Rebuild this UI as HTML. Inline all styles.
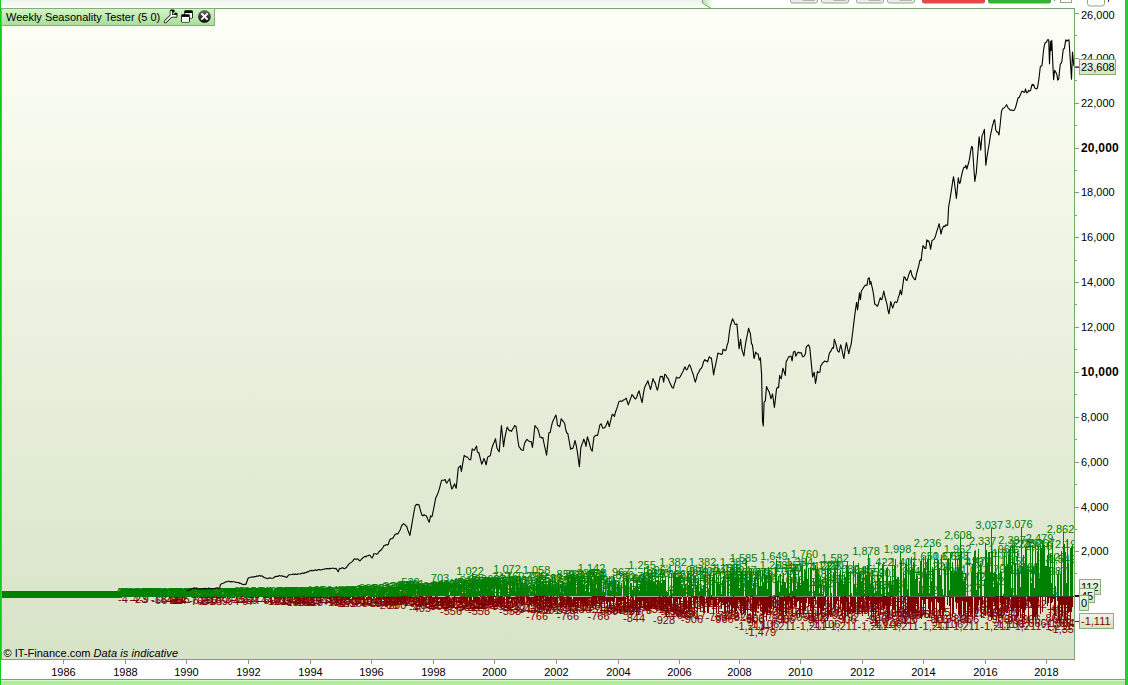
<!DOCTYPE html>
<html><head><meta charset="utf-8"><title>Weekly Seasonality Tester</title>
<style>
html,body{margin:0;padding:0;background:#fff;}
body{width:1128px;height:685px;overflow:hidden;position:relative;font-family:"Liberation Sans",sans-serif;}
svg{position:absolute;left:0;top:0;display:block;}
.ax{font-size:11px;fill:#000;}
.g text{fill:#008000;}
.r text{fill:#800000;}
</style></head><body>
<svg width="1128" height="685" viewBox="0 0 1128 685" font-family="'Liberation Sans', sans-serif">
<defs>
<linearGradient id="bg" x1="0" y1="0" x2="0" y2="1"><stop offset="0" stop-color="#fdfef5"/><stop offset="1" stop-color="#d7e3c7"/></linearGradient>
<linearGradient id="tb" x1="0" y1="0" x2="0" y2="1"><stop offset="0" stop-color="#edf4ea"/><stop offset="1" stop-color="#fbfdfa"/></linearGradient>
<linearGradient id="lg" x1="0" y1="0" x2="0" y2="1"><stop offset="0" stop-color="#d2f7c4"/><stop offset="1" stop-color="#abdc9b"/></linearGradient>
<linearGradient id="bx" x1="0" y1="0" x2="0" y2="1"><stop offset="0" stop-color="#eff5e6"/><stop offset="1" stop-color="#d3e3c4"/></linearGradient>
<linearGradient id="tab" x1="0" y1="0" x2="1" y2="0"><stop offset="0" stop-color="#aee3a0"/><stop offset="1" stop-color="#ffffff"/></linearGradient>
<clipPath id="pc"><rect x="2" y="9" width="1072" height="650"/></clipPath>
</defs>

<rect x="1" y="0" width="702" height="8" fill="url(#tb)"/>
<path d="M702.3 0 L702.3 1.5 Q702.3 3.5 704.5 4.6 L710.8 8.3 L713 8.3 L713 0 Z" fill="url(#tab)"/>
<path d="M702.3 0 L702.3 1.5 Q702.3 3.5 704.5 4.6 L710.8 8.3" fill="none" stroke="#6f9a60" stroke-width="1"/>
<rect x="790.5" y="-4" width="27.0" height="7" rx="2" fill="#ebebeb" stroke="#86b47a" stroke-width="1"/>
<rect x="802.6" y="0" width="12.2" height="1" fill="#b4b4b4"/>
<rect x="821.5" y="-4" width="27.0" height="7" rx="2" fill="#ebebeb" stroke="#86b47a" stroke-width="1"/>
<rect x="833.6" y="0" width="12.2" height="1" fill="#b4b4b4"/>
<rect x="856.5" y="-4" width="27.0" height="7" rx="2" fill="#ebebeb" stroke="#86b47a" stroke-width="1"/>
<rect x="868.6" y="0" width="12.2" height="1" fill="#b4b4b4"/>
<rect x="887.5" y="-4" width="27.0" height="7" rx="2" fill="#ebebeb" stroke="#86b47a" stroke-width="1"/>
<rect x="899.6" y="0" width="12.2" height="1" fill="#b4b4b4"/>
<rect x="922" y="-4" width="63" height="7.5" rx="2.5" fill="#e04a4a"/>
<rect x="988" y="-4" width="63" height="7.5" rx="2.5" fill="#2db52d"/>
<rect x="1054" y="0" width="1" height="1" fill="#6080a0"/>
<rect x="1060.5" y="-3" width="11" height="5.5" fill="none" stroke="#8aaa80" stroke-width="1"/>
<rect x="1087.5" y="-4" width="17" height="10" rx="2.5" fill="#fff" stroke="#8aaa80" stroke-width="1"/>
<rect x="1108" y="0" width="1" height="2" fill="#303080"/>
<rect x="2" y="9" width="1072" height="650" fill="url(#bg)"/>
<g clip-path="url(#pc)">
<g class="r" font-size="11" text-anchor="middle"><text x="123.0" y="602.9">-4</text><text x="134.1" y="602.9">-4</text><text x="139.4" y="603.3">-23</text><text x="144.1" y="603.0">-9</text><text x="158.8" y="603.2">-18</text><text x="159.4" y="604.3">-66</text><text x="170.6" y="603.9">-47</text><text x="171.2" y="603.7">-42</text><text x="174.7" y="603.6">-36</text><text x="175.9" y="604.2">-63</text><text x="177.1" y="603.3">-21</text><text x="178.8" y="604.0">-54</text><text x="179.4" y="603.3">-22</text><text x="181.8" y="603.1">-15</text><text x="195.3" y="604.5">-76</text><text x="197.1" y="604.2">-61</text><text x="205.3" y="604.7">-84</text><text x="207.1" y="604.6">-81</text><text x="209.4" y="604.0">-56</text><text x="213.5" y="603.2">-18</text><text x="216.5" y="604.5">-77</text><text x="220.0" y="604.8">-89</text><text x="226.5" y="602.9">-3</text><text x="231.2" y="604.9">-94</text><text x="237.7" y="603.1">-15</text><text x="238.2" y="602.9">-3</text><text x="240.0" y="603.1">-12</text><text x="246.5" y="605.0">-97</text><text x="250.0" y="604.1">-59</text><text x="251.8" y="603.8">-44</text><text x="265.3" y="603.8">-44</text><text x="267.7" y="604.1">-60</text><text x="275.3" y="605.1">-103</text><text x="278.8" y="603.3">-21</text><text x="280.6" y="605.1">-102</text><text x="281.8" y="605.4">-115</text><text x="282.4" y="604.3">-69</text><text x="291.8" y="604.5">-78</text><text x="293.5" y="603.1">-13</text><text x="294.1" y="605.9">-138</text><text x="295.3" y="604.3">-69</text><text x="298.2" y="603.6">-37</text><text x="300.6" y="603.6">-35</text><text x="304.1" y="606.3">-158</text><text x="305.3" y="604.9">-93</text><text x="305.9" y="603.1">-13</text><text x="311.2" y="603.5">-31</text><text x="311.8" y="605.4">-117</text><text x="312.4" y="605.5">-118</text><text x="317.1" y="602.9">-4</text><text x="320.0" y="604.9">-94</text><text x="323.5" y="603.4">-28</text><text x="330.0" y="602.8">-2</text><text x="333.5" y="605.0">-96</text><text x="334.7" y="603.6">-35</text><text x="335.3" y="605.5">-120</text><text x="337.6" y="603.2">-19</text><text x="338.2" y="603.1">-12</text><text x="342.4" y="604.4">-70</text><text x="344.7" y="606.5">-165</text><text x="345.9" y="605.0">-100</text><text x="347.1" y="606.7">-174</text><text x="353.5" y="604.4">-73</text><text x="357.1" y="606.5">-165</text><text x="358.2" y="604.8">-90</text><text x="364.1" y="604.1">-56</text><text x="367.6" y="606.4">-161</text><text x="368.2" y="605.1">-104</text><text x="375.3" y="606.1">-146</text><text x="377.1" y="607.2">-194</text><text x="380.0" y="606.3">-154</text><text x="381.2" y="603.5">-29</text><text x="384.7" y="606.3">-155</text><text x="387.1" y="608.8">-266</text><text x="390.0" y="604.9">-95</text><text x="391.8" y="603.3">-22</text><text x="392.9" y="604.4">-72</text><text x="393.5" y="605.3">-111</text><text x="394.7" y="604.9">-96</text><text x="395.3" y="608.6">-260</text><text x="397.6" y="604.9">-94</text><text x="401.2" y="603.0">-8</text><text x="402.3" y="603.9">-48</text><text x="404.7" y="604.3">-67</text><text x="408.2" y="604.8">-91</text><text x="410.6" y="605.8">-133</text><text x="412.9" y="604.7">-85</text><text x="415.3" y="605.7">-130</text><text x="416.5" y="604.2">-63</text><text x="421.8" y="609.1">-283</text><text x="422.3" y="603.9">-50</text><text x="422.9" y="606.1">-148</text><text x="424.1" y="606.6">-171</text><text x="425.3" y="605.2">-107</text><text x="431.2" y="603.6">-34</text><text x="435.3" y="609.0">-276</text><text x="437.6" y="609.5">-300</text><text x="438.8" y="609.4">-293</text><text x="440.0" y="608.2">-241</text><text x="440.6" y="605.1">-103</text><text x="441.7" y="605.9">-138</text><text x="442.9" y="609.4">-294</text><text x="446.5" y="605.2">-107</text><text x="448.8" y="604.0">-54</text><text x="452.3" y="607.6">-213</text><text x="454.1" y="610.4">-341</text><text x="455.3" y="604.5">-74</text><text x="457.0" y="605.7">-131</text><text x="462.9" y="608.1">-237</text><text x="464.1" y="604.4">-71</text><text x="465.3" y="611.3">-381</text><text x="469.4" y="609.4">-293</text><text x="470.6" y="608.5">-252</text><text x="472.9" y="609.4">-293</text><text x="474.7" y="611.4">-384</text><text x="476.5" y="607.6">-212</text><text x="482.9" y="605.3">-113</text><text x="483.5" y="604.9">-92</text><text x="484.1" y="609.3">-288</text><text x="484.7" y="604.1">-57</text><text x="487.0" y="606.7">-176</text><text x="488.8" y="607.3">-200</text><text x="489.4" y="606.0">-143</text><text x="492.9" y="603.2">-19</text><text x="493.5" y="603.8">-43</text><text x="494.7" y="604.0">-55</text><text x="497.0" y="607.3">-199</text><text x="499.4" y="609.8">-314</text><text x="500.6" y="608.6">-260</text><text x="502.9" y="604.3">-67</text><text x="506.4" y="607.1">-190</text><text x="507.0" y="606.3">-157</text><text x="510.0" y="610.0">-322</text><text x="514.1" y="612.6">-439</text><text x="517.0" y="605.0">-96</text><text x="518.2" y="603.5">-31</text><text x="521.2" y="612.2">-421</text><text x="521.7" y="604.3">-67</text><text x="528.2" y="605.4">-114</text><text x="530.0" y="604.7">-86</text><text x="531.7" y="612.5">-435</text><text x="532.3" y="605.1">-105</text><text x="536.4" y="604.3">-67</text><text x="538.2" y="613.3">-470</text><text x="538.8" y="603.9">-51</text><text x="540.0" y="604.1">-58</text><text x="540.6" y="613.5">-476</text><text x="541.1" y="610.5">-343</text><text x="544.7" y="603.2">-18</text><text x="545.9" y="608.2">-242</text><text x="549.4" y="614.0">-501</text><text x="550.6" y="603.4">-28</text><text x="552.3" y="611.0">-367</text><text x="554.1" y="610.1">-326</text><text x="555.9" y="604.6">-81</text><text x="560.6" y="606.1">-146</text><text x="562.9" y="604.1">-56</text><text x="564.1" y="614.3">-515</text><text x="565.3" y="611.5">-390</text><text x="565.8" y="606.8">-180</text><text x="568.8" y="607.4">-203</text><text x="573.5" y="612.5">-433</text><text x="575.3" y="609.8">-313</text><text x="580.0" y="612.7">-440</text><text x="585.8" y="605.9">-138</text><text x="586.4" y="604.8">-91</text><text x="588.2" y="604.9">-96</text><text x="589.4" y="610.1">-325</text><text x="591.7" y="605.1">-104</text><text x="593.5" y="612.9">-451</text><text x="594.7" y="603.1">-13</text><text x="595.3" y="603.5">-33</text><text x="596.4" y="608.4">-251</text><text x="597.6" y="604.4">-72</text><text x="607.0" y="615.3">-559</text><text x="610.5" y="613.0">-454</text><text x="611.1" y="612.9">-450</text><text x="614.1" y="613.6">-482</text><text x="617.6" y="611.0">-366</text><text x="621.7" y="609.9">-319</text><text x="622.9" y="612.9">-450</text><text x="623.5" y="610.9">-359</text><text x="624.1" y="603.0">-8</text><text x="627.6" y="612.2">-418</text><text x="628.2" y="606.5">-164</text><text x="629.4" y="603.0">-10</text><text x="630.0" y="614.7">-531</text><text x="630.5" y="613.9">-494</text><text x="634.1" y="607.7">-219</text><text x="638.2" y="609.8">-313</text><text x="639.4" y="607.6">-214</text><text x="641.1" y="613.5">-478</text><text x="647.6" y="607.0">-186</text><text x="651.1" y="609.4">-294</text><text x="652.3" y="608.7">-262</text><text x="652.9" y="612.5">-431</text><text x="654.1" y="607.8">-223</text><text x="654.7" y="604.7">-85</text><text x="655.8" y="608.7">-263</text><text x="658.2" y="606.1">-149</text><text x="661.7" y="609.2">-285</text><text x="662.9" y="603.3">-20</text><text x="665.8" y="612.0">-410</text><text x="667.0" y="613.3">-469</text><text x="671.1" y="614.7">-532</text><text x="671.7" y="616.9">-628</text><text x="674.1" y="608.7">-262</text><text x="674.7" y="611.4">-385</text><text x="678.2" y="618.6">-706</text><text x="680.5" y="611.8">-401</text><text x="681.7" y="614.4">-517</text><text x="682.3" y="617.4">-652</text><text x="683.5" y="615.0">-543</text><text x="687.0" y="617.5">-656</text><text x="690.5" y="609.1">-282</text><text x="693.5" y="607.6">-213</text><text x="695.2" y="618.9">-717</text><text x="696.4" y="604.4">-70</text><text x="703.5" y="603.6">-34</text><text x="707.0" y="605.8">-136</text><text x="709.4" y="607.3">-202</text><text x="715.2" y="605.1">-103</text><text x="716.4" y="620.5">-789</text><text x="718.8" y="608.9">-274</text><text x="725.2" y="619.0">-725</text><text x="728.8" y="620.1">-773</text><text x="734.1" y="618.2">-687</text><text x="738.2" y="607.7">-220</text><text x="741.1" y="621.3">-824</text><text x="744.6" y="609.8">-314</text><text x="747.0" y="603.8">-46</text><text x="749.9" y="606.4">-162</text><text x="753.5" y="622.2">-863</text><text x="754.6" y="612.4">-429</text><text x="764.1" y="605.2">-105</text><text x="767.0" y="614.9">-540</text><text x="771.7" y="603.6">-37</text><text x="772.3" y="607.1">-190</text><text x="772.9" y="614.7">-529</text><text x="774.6" y="619.2">-731</text><text x="778.8" y="622.9">-898</text><text x="782.3" y="607.8">-221</text><text x="785.2" y="612.4">-427</text><text x="788.8" y="615.5">-567</text><text x="789.3" y="603.5">-32</text><text x="794.1" y="614.3">-513</text><text x="797.6" y="620.9">-805</text><text x="802.3" y="617.5">-658</text><text x="805.8" y="614.4">-516</text><text x="815.2" y="621.2">-822</text><text x="818.2" y="620.8">-802</text><text x="819.3" y="607.6">-216</text><text x="828.2" y="617.1">-640</text><text x="831.7" y="615.5">-566</text><text x="832.9" y="618.6">-703</text><text x="834.0" y="610.9">-360</text><text x="841.7" y="602.8">-2</text><text x="848.2" y="620.6">-792</text><text x="849.3" y="610.1">-326</text><text x="851.7" y="612.6">-437</text><text x="855.8" y="614.3">-514</text><text x="857.0" y="611.1">-370</text><text x="857.6" y="605.7">-128</text><text x="858.2" y="614.0">-499</text><text x="864.0" y="611.5">-388</text><text x="866.4" y="603.4">-27</text><text x="871.7" y="609.9">-316</text><text x="877.6" y="621.1">-817</text><text x="878.7" y="608.8">-266</text><text x="879.9" y="613.6">-484</text><text x="885.2" y="625.7">-1,022</text><text x="886.4" y="603.9">-50</text><text x="887.0" y="619.5">-745</text><text x="888.2" y="605.6">-125</text><text x="891.7" y="617.0">-635</text><text x="898.2" y="616.6">-615</text><text x="901.7" y="603.8">-46</text><text x="904.6" y="623.5">-923</text><text x="905.2" y="613.8">-489</text><text x="908.2" y="618.4">-694</text><text x="908.7" y="610.0">-323</text><text x="909.9" y="619.3">-735</text><text x="915.8" y="615.0">-545</text><text x="918.7" y="618.4">-695</text><text x="931.1" y="618.1">-682</text><text x="939.3" y="616.4">-605</text><text x="940.5" y="623.4">-919</text><text x="958.2" y="621.0">-813</text><text x="960.5" y="622.9">-895</text><text x="974.0" y="616.5">-613</text><text x="974.6" y="613.8">-490</text><text x="986.4" y="608.0">-234</text><text x="992.9" y="619.9">-764</text><text x="993.4" y="616.3">-602</text><text x="994.0" y="617.4">-650</text><text x="997.0" y="603.8">-46</text><text x="1005.8" y="616.0">-591</text><text x="1007.0" y="608.0">-231</text><text x="1009.3" y="612.9">-448</text><text x="1009.9" y="607.3">-200</text><text x="1014.6" y="624.1">-951</text><text x="1015.2" y="622.2">-863</text><text x="1017.0" y="605.9">-139</text><text x="1024.6" y="608.4">-251</text><text x="1031.1" y="626.7">-1,066</text><text x="1035.8" y="608.2">-242</text><text x="1052.8" y="622.2">-867</text><text x="1058.1" y="611.9">-405</text><text x="1058.7" y="626.6">-1,064</text><text x="1059.3" y="615.3">-557</text><text x="1062.3" y="626.6">-1,062</text><text x="420.0" y="611.9">-405</text><text x="451.0" y="615.3">-556</text><text x="479.0" y="615.3">-558</text><text x="510.0" y="615.3">-558</text><text x="537.0" y="620.0">-766</text><text x="568.0" y="620.0">-766</text><text x="598.5" y="620.0">-766</text><text x="634.0" y="621.7">-844</text><text x="664.0" y="623.6">-928</text><text x="760.5" y="636.0">-1,479</text><text x="1064.5" y="633.1">-1,350</text><text x="692.0" y="623.1">-906</text><text x="722.7" y="623.1">-906</text><text x="753.4" y="623.1">-906</text><text x="784.1" y="623.1">-906</text><text x="814.8" y="623.1">-906</text><text x="845.5" y="623.1">-906</text><text x="876.1" y="623.1">-906</text><text x="906.8" y="623.1">-906</text><text x="937.5" y="623.1">-906</text><text x="968.2" y="623.1">-906</text><text x="998.9" y="623.1">-906</text><text x="1029.6" y="623.1">-906</text><text x="1060.3" y="623.1">-906</text><text x="750.0" y="629.9">-1,211</text><text x="780.7" y="629.9">-1,211</text><text x="811.4" y="629.9">-1,211</text><text x="842.1" y="629.9">-1,211</text><text x="872.8" y="629.9">-1,211</text><text x="903.5" y="629.9">-1,211</text><text x="934.1" y="629.9">-1,211</text><text x="964.8" y="629.9">-1,211</text><text x="995.5" y="629.9">-1,211</text><text x="1026.2" y="629.9">-1,211</text><text x="1056.9" y="629.9">-1,211</text><text x="763.5" y="627.6">-1,106</text><text x="824.9" y="627.6">-1,106</text><text x="886.3" y="627.6">-1,106</text><text x="947.6" y="627.6">-1,106</text><text x="1009.0" y="627.6">-1,106</text></g>
<path d="M124.5 597V597M125.5 597V596M126.5 597V597M126.5 597V597M127.5 597V596M127.5 597V596M128.5 597V596M128.5 597V597M129.5 597V596M130.5 597V597M130.5 597V597M131.5 597V596M131.5 597V596M132.5 597V596M133.5 597V596M133.5 597V596M134.5 597V596M134.5 597V596M135.5 597V597M136.5 597V597M136.5 597V596M137.5 597V596M137.5 597V597M138.5 597V597M138.5 597V596M139.5 597V597M140.5 597V597M140.5 597V597M141.5 597V597M141.5 597V596M142.5 597V597M143.5 597V596M143.5 597V597M144.5 597V597M144.5 597V596M145.5 597V597M146.5 597V596M146.5 597V596M147.5 597V596M147.5 597V596M148.5 597V596M148.5 597V597M149.5 597V596M150.5 597V596M150.5 597V596M151.5 597V597M151.5 597V596M152.5 597V597M153.5 597V596M153.5 597V597M154.5 597V597M154.5 597V597M155.5 597V596M156.5 597V596M156.5 597V597M157.5 597V596M157.5 597V596M158.5 597V597M158.5 597V596M159.5 597V597M160.5 597V596M160.5 597V597M161.5 597V596M161.5 597V597M162.5 597V596M163.5 597V597M163.5 597V596M164.5 597V597M164.5 597V596M165.5 597V596M166.5 597V597M166.5 597V596M167.5 597V597M167.5 597V596M168.5 597V596M168.5 597V596M169.5 597V597M170.5 597V596M170.5 597V597M171.5 597V597M171.5 597V596M172.5 597V597M173.5 597V597M173.5 597V597M174.5 597V597M174.5 597V597M175.5 597V597M176.5 597V596M176.5 597V597M177.5 597V597M177.5 597V596M178.5 597V597M178.5 597V596M179.5 597V596M180.5 597V596M180.5 597V597M181.5 597V597M181.5 597V596M182.5 597V596M183.5 597V597M183.5 597V597M184.5 597V596M184.5 597V597M185.5 597V596M186.5 597V597M186.5 597V596M187.5 597V596M187.5 597V596M188.5 597V596M188.5 597V597M189.5 597V596M190.5 597V597M190.5 597V596M191.5 597V597M191.5 597V597M192.5 597V597M193.5 597V596M193.5 597V597M194.5 597V596M194.5 597V596M195.5 597V596M196.5 597V597M196.5 597V596M197.5 597V596M197.5 597V598M198.5 597V597M198.5 597V596M199.5 597V597M200.5 597V597M200.5 597V596M201.5 597V597M201.5 597V598M202.5 597V597M203.5 597V597M203.5 597V596M204.5 597V596M204.5 597V596M205.5 597V597M206.5 597V597M206.5 597V596M207.5 597V597M207.5 597V598M208.5 597V596M208.5 597V598M209.5 597V598M210.5 597V596M210.5 597V596M211.5 597V597M211.5 597V597M212.5 597V596M213.5 597V598M213.5 597V596M214.5 597V597M214.5 597V596M215.5 597V597M216.5 597V596M216.5 597V598M217.5 597V597M217.5 597V596M218.5 597V597M218.5 597V598M219.5 597V597M220.5 597V596M220.5 597V597M221.5 597V596M221.5 597V597M222.5 597V598M223.5 597V596M223.5 597V597M224.5 597V598M224.5 597V596M225.5 597V596M226.5 597V596M226.5 597V597M227.5 597V598M227.5 597V597M228.5 597V597M228.5 597V596M229.5 597V596M230.5 597V596M230.5 597V597M231.5 597V596M231.5 597V596M232.5 597V598M233.5 597V597M233.5 597V598M234.5 597V598M234.5 597V598M235.5 597V597M236.5 597V597M236.5 597V597M237.5 597V598M237.5 597V598M238.5 597V596M238.5 597V597M239.5 597V597M240.5 597V596M240.5 597V596M241.5 597V596M241.5 597V596M242.5 597V596M243.5 597V597M243.5 597V597M244.5 597V597M244.5 597V596M245.5 597V597M246.5 597V596M246.5 597V597M247.5 597V596M247.5 597V596M248.5 597V597M248.5 597V598M249.5 597V597M250.5 597V598M250.5 597V597M251.5 597V596M251.5 597V598M252.5 597V597M253.5 597V596M253.5 597V598M254.5 597V597M254.5 597V597M255.5 597V598M256.5 597V598M256.5 597V597M257.5 597V598M257.5 597V597M258.5 597V598M258.5 597V596M259.5 597V597M260.5 597V597M260.5 597V596M261.5 597V596M261.5 597V596M262.5 597V597M263.5 597V597M263.5 597V598M264.5 597V598M264.5 597V597M265.5 597V597M266.5 597V598M266.5 597V596M267.5 597V598M267.5 597V597M268.5 597V598M268.5 597V596M269.5 597V597M270.5 597V597M270.5 597V596M271.5 597V597M271.5 597V596M272.5 597V597M273.5 597V597M273.5 597V596M274.5 597V598M274.5 597V598M275.5 597V598M276.5 597V596M276.5 597V598M277.5 597V598M277.5 597V598M278.5 597V598M278.5 597V597M279.5 597V596M280.5 597V599M280.5 597V599M281.5 597V596M281.5 597V596M282.5 597V598M283.5 597V598M283.5 597V597M284.5 597V598M284.5 597V597M285.5 597V596M286.5 597V597M286.5 597V596M287.5 597V599M287.5 597V597M288.5 597V596M288.5 597V596M289.5 597V599M290.5 597V598M290.5 597V598M291.5 597V598M291.5 597V598M292.5 597V596M293.5 597V597M293.5 597V596M294.5 597V598M294.5 597V598M295.5 597V599M296.5 597V596M296.5 597V599M297.5 597V597M297.5 597V597M298.5 597V597M298.5 597V599M299.5 597V598M300.5 597V596M300.5 597V597M301.5 597V596M301.5 597V596M302.5 597V597M303.5 597V597M303.5 597V597M304.5 597V596M304.5 597V596M305.5 597V597M306.5 597V596M306.5 597V599M307.5 597V599M307.5 597V598M308.5 597V596M308.5 597V598M309.5 597V598M310.5 597V599M310.5 597V599M311.5 597V597M311.5 597V596M312.5 597V597M313.5 597V598M313.5 597V596M314.5 597V598M314.5 597V598M315.5 597V598M316.5 597V598M316.5 597V599M317.5 597V597M317.5 597V597M318.5 597V596M318.5 597V598M319.5 597V596M320.5 597V599M320.5 597V598M321.5 597V598M321.5 597V596M322.5 597V598M323.5 597V597M323.5 597V598M324.5 597V598M324.5 597V597M325.5 597V598M326.5 597V596M326.5 597V598M327.5 597V596M327.5 597V599M328.5 597V599M328.5 597V599M329.5 597V599M330.5 597V599M330.5 597V599M331.5 597V596M331.5 597V599M332.5 597V596M333.5 597V598M333.5 597V597M334.5 597V596M334.5 597V600M335.5 597V598M336.5 597V598M336.5 597V600M337.5 597V597M337.5 597V598M338.5 597V596M338.5 597V598M339.5 597V598M340.5 597V596M340.5 597V596M341.5 597V597M341.5 597V598M342.5 597V598M343.5 597V597M343.5 597V598M344.5 597V597M344.5 597V597M345.5 597V598M346.5 597V597M346.5 597V599M347.5 597V599M347.5 597V597M348.5 597V598M348.5 597V600M349.5 597V600M350.5 597V598M350.5 597V597M351.5 597V597M351.5 597V596M352.5 597V600M353.5 597V599M353.5 597V600M354.5 597V599M354.5 597V597M355.5 597V600M356.5 597V597M356.5 597V600M357.5 597V597M357.5 597V599M358.5 597V600M358.5 597V596M359.5 597V599M360.5 597V601M360.5 597V598M361.5 597V597M361.5 597V597M362.5 597V599M363.5 597V600M363.5 597V596M364.5 597V597M364.5 597V601M365.5 597V596M366.5 597V600M366.5 597V597M367.5 597V597M367.5 597V600M368.5 597V598M368.5 597V599M369.5 597V598M370.5 597V599M370.5 597V598M371.5 597V600M371.5 597V598M372.5 597V597M373.5 597V598M373.5 597V601M374.5 597V597M374.5 597V598M375.5 597V596M376.5 597V599M376.5 597V596M377.5 597V599M377.5 597V599M378.5 597V599M378.5 597V596M379.5 597V600M380.5 597V596M380.5 597V601M381.5 597V597M381.5 597V597M382.5 597V599M383.5 597V600M383.5 597V596M384.5 597V597M384.5 597V600M385.5 597V599M386.5 597V600M386.5 597V601M387.5 597V599M387.5 597V598M388.5 597V599M388.5 597V597M389.5 597V602M390.5 597V600M390.5 597V601M391.5 597V600M391.5 597V598M392.5 597V598M393.5 597V599M393.5 597V600M394.5 597V596M394.5 597V598M395.5 597V597M396.5 597V598M396.5 597V600M397.5 597V598M397.5 597V602M398.5 597V600M398.5 597V598M399.5 597V602M400.5 597V598M400.5 597V601M401.5 597V600M401.5 597V601M402.5 597V599M403.5 597V601M403.5 597V596M404.5 597V602M404.5 597V597M405.5 597V600M406.5 597V597M406.5 597V596M407.5 597V597M407.5 597V601M408.5 597V597M408.5 597V598M409.5 597V600M410.5 597V598M410.5 597V598M411.5 597V597M411.5 597V598M412.5 597V597M413.5 597V599M413.5 597V597M414.5 597V597M414.5 597V602M415.5 597V598M416.5 597V599M416.5 597V600M417.5 597V599M417.5 597V599M418.5 597V600M418.5 597V597M419.5 597V601M420.5 597V596M421.5 597V601M421.5 597V600M422.5 597V599M423.5 597V603M423.5 597V597M424.5 597V602M424.5 597V597M425.5 597V599M426.5 597V599M426.5 597V600M427.5 597V597M427.5 597V598M428.5 597V597M428.5 597V599M429.5 597V602M430.5 597V603M430.5 597V601M431.5 597V596M431.5 597V599M432.5 597V601M433.5 597V602M433.5 597V597M434.5 597V601M434.5 597V603M435.5 597V596M436.5 597V602M436.5 597V602M437.5 597V600M437.5 597V602M438.5 597V600M438.5 597V598M439.5 597V599M440.5 597V603M440.5 597V602M441.5 597V602M441.5 597V602M442.5 597V601M443.5 597V598M443.5 597V603M444.5 597V599M444.5 597V597M445.5 597V602M446.5 597V598M446.5 597V600M447.5 597V598M447.5 597V601M448.5 597V598M448.5 597V598M449.5 597V601M450.5 597V597M450.5 597V597M451.5 597V597M451.5 597V597M452.5 597V597M453.5 597V600M453.5 597V600M454.5 597V596M454.5 597V601M455.5 597V598M456.5 597V601M456.5 597V603M457.5 597V598M457.5 597V597M458.5 597V600M458.5 597V597M459.5 597V599M460.5 597V603M460.5 597V601M461.5 597V604M461.5 597V598M462.5 597V600M463.5 597V603M463.5 597V601M464.5 597V596M464.5 597V601M465.5 597V601M466.5 597V601M466.5 597V597M467.5 597V601M467.5 597V604M468.5 597V597M468.5 597V597M469.5 597V604M470.5 597V599M470.5 597V604M471.5 597V602M471.5 597V602M472.5 597V597M473.5 597V601M473.5 597V604M474.5 597V602M474.5 597V603M475.5 597V602M476.5 597V604M476.5 597V599M477.5 597V604M477.5 597V602M478.5 597V601M478.5 597V601M479.5 597V603M480.5 597V596M480.5 597V597M481.5 597V603M481.5 597V603M482.5 597V602M483.5 597V600M483.5 597V598M484.5 597V603M484.5 597V602M485.5 597V598M486.5 597V598M486.5 597V602M487.5 597V597M487.5 597V596M488.5 597V599M488.5 597V603M489.5 597V600M490.5 597V601M490.5 597V605M491.5 597V600M491.5 597V599M492.5 597V601M493.5 597V601M493.5 597V605M494.5 597V596M494.5 597V597M495.5 597V596M496.5 597V597M497.5 597V597M497.5 597V596M498.5 597V603M498.5 597V598M499.5 597V600M500.5 597V602M500.5 597V605M501.5 597V600M501.5 597V603M502.5 597V598M503.5 597V602M503.5 597V603M504.5 597V605M504.5 597V598M505.5 597V597M506.5 597V598M506.5 597V605M507.5 597V601M507.5 597V601M508.5 597V604M508.5 597V600M509.5 597V599M510.5 597V599M511.5 597V603M511.5 597V602M512.5 597V603M513.5 597V598M513.5 597V599M514.5 597V605M514.5 597V598M515.5 597V599M516.5 597V597M516.5 597V606M517.5 597V600M517.5 597V599M518.5 597V603M519.5 597V598M520.5 597V602M520.5 597V596M521.5 597V606M521.5 597V599M522.5 597V605M523.5 597V605M523.5 597V605M524.5 597V597M524.5 597V603M525.5 597V597M526.5 597V598M526.5 597V599M527.5 597V600M527.5 597V603M528.5 597V601M528.5 597V598M529.5 597V606M530.5 597V605M530.5 597V598M531.5 597V606M531.5 597V598M532.5 597V598M533.5 597V604M533.5 597V597M534.5 597V606M534.5 597V598M535.5 597V602M536.5 597V598M537.5 597V607M537.5 597V600M538.5 597V596M538.5 597V597M539.5 597V602M540.5 597V602M540.5 597V606M541.5 597V597M541.5 597V600M542.5 597V597M543.5 597V606M543.5 597V603M544.5 597V597M544.5 597V596M545.5 597V607M545.5 597V600M546.5 597V603M547.5 597V596M547.5 597V606M548.5 597V601M549.5 597V604M550.5 597V605M550.5 597V596M551.5 597V598M551.5 597V607M552.5 597V600M553.5 597V596M553.5 597V599M554.5 597V606M554.5 597V604M555.5 597V598M555.5 597V603M556.5 597V603M557.5 597V596M557.5 597V603M558.5 597V598M559.5 597V596M560.5 597V607M560.5 597V602M561.5 597V597M561.5 597V600M562.5 597V607M563.5 597V599M563.5 597V597M564.5 597V605M565.5 597V597M565.5 597V598M566.5 597V607M567.5 597V601M567.5 597V605M568.5 597V600M568.5 597V606M569.5 597V601M570.5 597V603M570.5 597V606M571.5 597V600M571.5 597V606M573.5 597V604M573.5 597V606M574.5 597V607M574.5 597V602M575.5 597V598M575.5 597V606M576.5 597V601M577.5 597V607M577.5 597V603M578.5 597V601M578.5 597V608M579.5 597V601M580.5 597V606M580.5 597V607M581.5 597V598M581.5 597V602M582.5 597V606M583.5 597V600M583.5 597V607M584.5 597V604M584.5 597V601M585.5 597V605M585.5 597V603M586.5 597V605M587.5 597V608M587.5 597V598M588.5 597V599M588.5 597V598M589.5 597V598M590.5 597V598M591.5 597V601M591.5 597V603M592.5 597V608M593.5 597V605M593.5 597V603M594.5 597V598M594.5 597V602M595.5 597V608M595.5 597V606M596.5 597V603M597.5 597V596M597.5 597V597M598.5 597V601M599.5 597V607M600.5 597V597M600.5 597V598M601.5 597V609M602.5 597V600M603.5 597V602M603.5 597V600M604.5 597V608M604.5 597V596M605.5 597V601M606.5 597V604M607.5 597V606M607.5 597V600M608.5 597V602M608.5 597V598M609.5 597V608M610.5 597V608M610.5 597V597M611.5 597V601M612.5 597V602M613.5 597V606M613.5 597V606M614.5 597V596M614.5 597V602M615.5 597V598M616.5 597V607M617.5 597V609M617.5 597V597M618.5 597V602M618.5 597V598M619.5 597V602M620.5 597V604M621.5 597V603M621.5 597V605M622.5 597V601M623.5 597V601M624.5 597V603M625.5 597V606M625.5 597V604M626.5 597V596M627.5 597V610M628.5 597V601M630.5 597V605M630.5 597V599M631.5 597V598M631.5 597V596M632.5 597V608M633.5 597V607M633.5 597V609M634.5 597V597M635.5 597V609M635.5 597V608M636.5 597V601M637.5 597V606M637.5 597V599M638.5 597V602M639.5 597V610M640.5 597V606M640.5 597V603M641.5 597V604M641.5 597V601M642.5 597V601M643.5 597V597M643.5 597V607M644.5 597V601M644.5 597V609M645.5 597V610M645.5 597V601M646.5 597V603M647.5 597V607M648.5 597V607M648.5 597V601M649.5 597V599M650.5 597V600M650.5 597V606M651.5 597V608M651.5 597V607M652.5 597V601M653.5 597V602M654.5 597V603M654.5 597V602M655.5 597V605M655.5 597V599M656.5 597V601M657.5 597V598M657.5 597V598M658.5 597V602M658.5 597V603M659.5 597V608M660.5 597V600M660.5 597V599M661.5 597V604M661.5 597V604M662.5 597V601M663.5 597V611M663.5 597V601M664.5 597V602M664.5 597V600M665.5 597V596M665.5 597V607M666.5 597V607M667.5 597V604M667.5 597V598M668.5 597V605M668.5 597V602M669.5 597V606M670.5 597V609M671.5 597V607M671.5 597V596M672.5 597V598M673.5 597V612M673.5 597V608M674.5 597V610M674.5 597V599M675.5 597V607M675.5 597V604M676.5 597V602M677.5 597V604M677.5 597V604M678.5 597V597M678.5 597V599M679.5 597V605M680.5 597V610M680.5 597V612M681.5 597V599M681.5 597V599M682.5 597V596M683.5 597V605M683.5 597V605M684.5 597V607M684.5 597V610M685.5 597V604M685.5 597V608M686.5 597V608M687.5 597V596M687.5 597V597M688.5 597V610M688.5 597V607M689.5 597V611M690.5 597V606M690.5 597V608M691.5 597V596M691.5 597V607M692.5 597V598M693.5 597V602M693.5 597V605M694.5 597V603M694.5 597V607M695.5 597V597M695.5 597V601M696.5 597V600M697.5 597V612M698.5 597V598M698.5 597V597M699.5 597V600M700.5 597V612M700.5 597V608M701.5 597V603M701.5 597V597M702.5 597V605M703.5 597V613M704.5 597V613M704.5 597V599M705.5 597V597M705.5 597V597M706.5 597V603M707.5 597V606M707.5 597V613M708.5 597V613M708.5 597V601M709.5 597V599M710.5 597V599M710.5 597V601M711.5 597V596M711.5 597V600M712.5 597V600M713.5 597V614M713.5 597V610M714.5 597V601M714.5 597V607M715.5 597V606M715.5 597V598M716.5 597V613M717.5 597V598M717.5 597V598M718.5 597V613M719.5 597V603M720.5 597V600M720.5 597V602M721.5 597V602M721.5 597V609M722.5 597V603M723.5 597V605M723.5 597V598M724.5 597V612M725.5 597V610M725.5 597V613M726.5 597V604M727.5 597V608M727.5 597V612M728.5 597V600M728.5 597V602M729.5 597V614M730.5 597V599M730.5 597V605M731.5 597V613M731.5 597V609M732.5 597V611M733.5 597V596M733.5 597V608M734.5 597V611M734.5 597V606M735.5 597V613M735.5 597V610M736.5 597V611M737.5 597V597M737.5 597V608M738.5 597V600M738.5 597V598M739.5 597V602M740.5 597V613M740.5 597V601M741.5 597V615M741.5 597V598M742.5 597V606M743.5 597V614M744.5 597V613M744.5 597V612M745.5 597V605M745.5 597V615M747.5 597V603M747.5 597V615M748.5 597V602M749.5 597V597M750.5 597V611M750.5 597V609M751.5 597V597M751.5 597V596M752.5 597V599M753.5 597V612M753.5 597V615M754.5 597V600M754.5 597V610M755.5 597V603M755.5 597V615M756.5 597V611M757.5 597V605M757.5 597V601M758.5 597V609M758.5 597V602M759.5 597V599M760.5 597V601M760.5 597V611M761.5 597V604M762.5 597V614M763.5 597V599M763.5 597V611M764.5 597V605M764.5 597V614M765.5 597V612M765.5 597V604M766.5 597V598M767.5 597V608M767.5 597V615M768.5 597V607M769.5 597V608M770.5 597V612M770.5 597V597M771.5 597V602M771.5 597V609M773.5 597V610M773.5 597V608M774.5 597V597M774.5 597V600M775.5 597V608M775.5 597V597M776.5 597V597M777.5 597V612M777.5 597V601M778.5 597V596M779.5 597V615M780.5 597V611M780.5 597V608M781.5 597V616M781.5 597V609M782.5 597V609M783.5 597V605M783.5 597V605M784.5 597V596M784.5 597V601M785.5 597V614M786.5 597V606M787.5 597V598M787.5 597V605M788.5 597V610M789.5 597V601M790.5 597V608M790.5 597V603M791.5 597V609M791.5 597V597M792.5 597V615M793.5 597V599M793.5 597V599M794.5 597V606M795.5 597V604M795.5 597V606M796.5 597V607M797.5 597V600M797.5 597V602M798.5 597V601M799.5 597V617M800.5 597V614M800.5 597V598M801.5 597V602M801.5 597V603M802.5 597V609M803.5 597V600M803.5 597V615M804.5 597V599M804.5 597V611M805.5 597V610M805.5 597V604M806.5 597V603M807.5 597V598M808.5 597V607M809.5 597V604M810.5 597V603M810.5 597V611M811.5 597V608M811.5 597V598M812.5 597V613M813.5 597V598M813.5 597V613M814.5 597V596M814.5 597V599M815.5 597V604M815.5 597V602M817.5 597V607M817.5 597V614M818.5 597V617M818.5 597V603M819.5 597V608M820.5 597V614M821.5 597V617M821.5 597V601M822.5 597V610M823.5 597V611M823.5 597V609M824.5 597V606M825.5 597V596M825.5 597V603M827.5 597V612M827.5 597V604M828.5 597V617M830.5 597V617M830.5 597V610M831.5 597V611M831.5 597V606M833.5 597V608M834.5 597V608M834.5 597V600M835.5 597V612M836.5 597V604M837.5 597V601M838.5 597V603M838.5 597V613M840.5 597V599M840.5 597V609M841.5 597V603M842.5 597V618M843.5 597V610M843.5 597V603M844.5 597V596M844.5 597V610M845.5 597V617M845.5 597V596M846.5 597V602M847.5 597V608M848.5 597V614M849.5 597V597M850.5 597V596M850.5 597V614M851.5 597V607M851.5 597V603M852.5 597V613M853.5 597V613M854.5 597V606M854.5 597V612M855.5 597V612M855.5 597V605M856.5 597V597M857.5 597V614M857.5 597V599M858.5 597V607M859.5 597V604M860.5 597V599M860.5 597V607M861.5 597V602M861.5 597V596M862.5 597V616M863.5 597V607M863.5 597V610M865.5 597V600M866.5 597V604M867.5 597V610M867.5 597V608M868.5 597V616M868.5 597V596M869.5 597V601M870.5 597V605M871.5 597V618M871.5 597V601M872.5 597V612M873.5 597V617M874.5 597V603M874.5 597V604M875.5 597V609M875.5 597V607M876.5 597V605M877.5 597V609M877.5 597V597M878.5 597V604M878.5 597V616M879.5 597V601M880.5 597V614M880.5 597V615M881.5 597V602M882.5 597V607M883.5 597V610M883.5 597V597M884.5 597V609M884.5 597V603M885.5 597V605M886.5 597V608M887.5 597V598M887.5 597V619M888.5 597V617M888.5 597V597M889.5 597V613M890.5 597V606M890.5 597V599M892.5 597V619M893.5 597V610M893.5 597V602M894.5 597V610M894.5 597V598M895.5 597V614M895.5 597V609M897.5 597V607M897.5 597V615M898.5 597V608M898.5 597V615M899.5 597V597M900.5 597V606M900.5 597V610M901.5 597V609M901.5 597V602M902.5 597V596M903.5 597V618M903.5 597V611M904.5 597V597M904.5 597V600M905.5 597V615M906.5 597V597M907.5 597V616M907.5 597V607M908.5 597V598M908.5 597V612M909.5 597V617M910.5 597V602M910.5 597V611M911.5 597V603M911.5 597V612M912.5 597V612M913.5 597V613M913.5 597V597M914.5 597V600M914.5 597V613M915.5 597V614M915.5 597V617M916.5 597V604M917.5 597V612M918.5 597V608M920.5 597V618M920.5 597V616M921.5 597V611M921.5 597V619M922.5 597V600M923.5 597V615M924.5 597V604M924.5 597V597M925.5 597V616M926.5 597V599M927.5 597V599M928.5 597V605M928.5 597V609M929.5 597V618M930.5 597V612M930.5 597V613M931.5 597V600M931.5 597V602M932.5 597V615M933.5 597V598M933.5 597V611M934.5 597V608M934.5 597V619M935.5 597V599M936.5 597V611M937.5 597V599M937.5 597V602M938.5 597V598M938.5 597V603M939.5 597V613M940.5 597V609M940.5 597V604M941.5 597V610M941.5 597V609M942.5 597V620M943.5 597V616M943.5 597V601M944.5 597V600M944.5 597V612M947.5 597V605M948.5 597V596M949.5 597V606M950.5 597V607M951.5 597V598M952.5 597V617M953.5 597V603M953.5 597V613M954.5 597V597M955.5 597V602M955.5 597V601M956.5 597V609M957.5 597V600M957.5 597V603M958.5 597V614M958.5 597V609M959.5 597V616M960.5 597V614M961.5 597V604M961.5 597V618M962.5 597V601M963.5 597V616M963.5 597V611M964.5 597V599M964.5 597V613M965.5 597V608M965.5 597V618M966.5 597V602M967.5 597V608M967.5 597V598M968.5 597V613M968.5 597V616M969.5 597V607M970.5 597V614M971.5 597V602M971.5 597V613M972.5 597V619M974.5 597V619M974.5 597V598M975.5 597V613M975.5 597V610M976.5 597V610M977.5 597V607M977.5 597V614M978.5 597V605M978.5 597V604M979.5 597V600M980.5 597V610M980.5 597V602M981.5 597V618M982.5 597V605M983.5 597V597M984.5 597V612M984.5 597V598M985.5 597V616M985.5 597V597M986.5 597V598M987.5 597V607M987.5 597V613M988.5 597V610M988.5 597V601M989.5 597V608M990.5 597V617M990.5 597V599M991.5 597V620M991.5 597V611M992.5 597V599M992.5 597V618M993.5 597V601M994.5 597V606M995.5 597V613M995.5 597V609M996.5 597V610M997.5 597V616M997.5 597V598M998.5 597V620M998.5 597V615M999.5 597V597M1000.5 597V603M1000.5 597V600M1001.5 597V614M1001.5 597V596M1002.5 597V609M1002.5 597V609M1003.5 597V604M1004.5 597V614M1005.5 597V612M1006.5 597V599M1007.5 597V613M1007.5 597V612M1008.5 597V609M1008.5 597V608M1009.5 597V601M1010.5 597V596M1011.5 597V603M1011.5 597V606M1012.5 597V600M1012.5 597V609M1013.5 597V611M1014.5 597V598M1014.5 597V608M1015.5 597V605M1015.5 597V600M1016.5 597V619M1017.5 597V617M1017.5 597V615M1018.5 597V600M1018.5 597V616M1019.5 597V599M1020.5 597V618M1021.5 597V604M1021.5 597V609M1022.5 597V620M1023.5 597V613M1024.5 597V620M1024.5 597V602M1025.5 597V610M1025.5 597V604M1027.5 597V601M1028.5 597V609M1028.5 597V601M1029.5 597V602M1030.5 597V604M1031.5 597V608M1031.5 597V599M1032.5 597V620M1032.5 597V611M1033.5 597V620M1034.5 597V617M1034.5 597V611M1035.5 597V598M1035.5 597V620M1036.5 597V615M1037.5 597V618M1037.5 597V607M1038.5 597V601M1040.5 597V605M1040.5 597V614M1041.5 597V596M1041.5 597V597M1042.5 597V612M1045.5 597V604M1047.5 597V600M1047.5 597V606M1048.5 597V597M1048.5 597V603M1049.5 597V598M1050.5 597V617M1050.5 597V607M1051.5 597V597M1051.5 597V603M1052.5 597V602M1053.5 597V599M1054.5 597V618M1055.5 597V615M1057.5 597V601M1058.5 597V621M1058.5 597V607M1059.5 597V614M1060.5 597V605M1061.5 597V620M1061.5 597V608M1062.5 597V608M1062.5 597V608M1063.5 597V605M1064.5 597V606M1064.5 597V620M1065.5 597V621M1065.5 597V618M1066.5 597V605M1067.5 597V616M1068.5 597V613M1068.5 597V612M1069.5 597V612M1070.5 597V621M1070.5 597V605M1071.5 597V612M1072.5 597V601M1072.5 597V607M422.5 597V605M453.5 597V608M481.5 597V608M512.5 597V608M539.5 597V613M570.5 597V613M601.5 597V613M636.5 597V615M666.5 597V617M763.5 597V629M1067.5 597V626M694.5 597V616M725.5 597V616M755.5 597V616M786.5 597V616M817.5 597V616M847.5 597V616M878.5 597V616M909.5 597V616M940.5 597V616M970.5 597V616M1001.5 597V616M1032.5 597V616M1062.5 597V616M752.5 597V623M783.5 597V623M813.5 597V623M844.5 597V623M875.5 597V623M905.5 597V623M936.5 597V623M967.5 597V623M998.5 597V623M1028.5 597V623M1059.5 597V623M766.5 597V621M827.5 597V621M888.5 597V621M950.5 597V621M1011.5 597V621" stroke="#800000" stroke-width="1" fill="none" shape-rendering="crispEdges"/>
<rect x="2" y="591" width="120" height="7" fill="#008000"/>
<g class="g" font-size="11" text-anchor="middle"><text x="123.0" y="596.6">36</text><text x="123.6" y="596.1">59</text><text x="124.7" y="597.2">8</text><text x="125.3" y="596.8">27</text><text x="125.9" y="596.7">30</text><text x="126.5" y="596.3">50</text><text x="127.7" y="596.6">35</text><text x="128.8" y="595.9">68</text><text x="130.0" y="596.7">33</text><text x="130.6" y="597.0">18</text><text x="132.4" y="596.6">35</text><text x="134.1" y="596.8">29</text><text x="134.7" y="597.1">12</text><text x="135.3" y="596.8">26</text><text x="135.9" y="596.8">25</text><text x="136.5" y="596.6">35</text><text x="137.1" y="597.1">12</text><text x="137.7" y="597.4">2</text><text x="138.3" y="596.8">27</text><text x="139.4" y="596.2">54</text><text x="140.0" y="596.9">20</text><text x="141.8" y="596.1">59</text><text x="142.4" y="596.6">35</text><text x="143.0" y="596.7">29</text><text x="144.1" y="596.3">48</text><text x="144.7" y="596.3">48</text><text x="145.3" y="597.1">16</text><text x="145.9" y="596.7">31</text><text x="146.5" y="595.9">67</text><text x="147.1" y="597.4">1</text><text x="148.3" y="596.1">58</text><text x="148.8" y="596.6">38</text><text x="149.4" y="596.6">37</text><text x="151.2" y="597.0">18</text><text x="152.4" y="595.8">71</text><text x="153.0" y="596.7">32</text><text x="153.6" y="597.4">1</text><text x="154.1" y="596.5">38</text><text x="154.7" y="597.0">20</text><text x="155.9" y="596.2">52</text><text x="157.1" y="595.9">65</text><text x="157.7" y="597.2">10</text><text x="158.3" y="597.1">15</text><text x="158.8" y="597.1">13</text><text x="159.4" y="596.5">42</text><text x="160.0" y="596.7">33</text><text x="160.6" y="595.7">74</text><text x="161.2" y="596.8">26</text><text x="161.8" y="597.1">12</text><text x="162.4" y="597.0">18</text><text x="163.6" y="596.8">27</text><text x="164.1" y="596.5">38</text><text x="164.7" y="597.4">2</text><text x="167.7" y="596.2">53</text><text x="168.3" y="596.0">64</text><text x="172.4" y="596.6">36</text><text x="173.0" y="595.8">72</text><text x="173.5" y="596.9">21</text><text x="174.7" y="596.2">54</text><text x="175.3" y="596.5">38</text><text x="175.9" y="595.9">65</text><text x="177.1" y="596.4">46</text><text x="177.7" y="595.9">65</text><text x="178.3" y="597.1">15</text><text x="180.0" y="597.2">10</text><text x="181.2" y="597.1">13</text><text x="181.8" y="595.7">78</text><text x="182.4" y="597.2">7</text><text x="183.0" y="596.7">32</text><text x="184.1" y="597.0">17</text><text x="185.3" y="596.6">37</text><text x="187.1" y="596.4">43</text><text x="187.7" y="596.9">24</text><text x="188.3" y="597.3">6</text><text x="188.8" y="597.4">1</text><text x="189.4" y="596.6">38</text><text x="190.0" y="597.4">2</text><text x="190.6" y="595.8">73</text><text x="192.4" y="595.7">76</text><text x="193.0" y="595.7">75</text><text x="193.5" y="597.3">4</text><text x="195.3" y="597.4">0</text><text x="195.9" y="597.0">17</text><text x="196.5" y="596.6">38</text><text x="197.1" y="597.3">2</text><text x="198.8" y="596.9">22</text><text x="199.4" y="597.4">2</text><text x="200.0" y="596.9">20</text><text x="201.8" y="597.3">5</text><text x="202.4" y="595.6">80</text><text x="203.0" y="596.6">36</text><text x="204.7" y="595.8">73</text><text x="207.1" y="596.6">37</text><text x="207.7" y="596.2">51</text><text x="208.8" y="597.1">15</text><text x="209.4" y="597.2">8</text><text x="210.0" y="596.1">58</text><text x="210.6" y="596.3">48</text><text x="211.8" y="595.9">69</text><text x="213.0" y="596.4">43</text><text x="214.1" y="595.5">83</text><text x="215.9" y="596.7">33</text><text x="217.7" y="596.1">57</text><text x="218.8" y="597.2">9</text><text x="220.0" y="597.3">5</text><text x="222.4" y="597.1">13</text><text x="223.0" y="596.8">28</text><text x="223.5" y="595.6">79</text><text x="225.3" y="596.3">51</text><text x="226.5" y="596.1">59</text><text x="227.1" y="596.5">38</text><text x="227.7" y="597.4">2</text><text x="228.2" y="596.2">52</text><text x="228.8" y="595.5">84</text><text x="229.4" y="595.8">70</text><text x="230.6" y="595.6">81</text><text x="231.2" y="595.8">70</text><text x="231.8" y="596.2">55</text><text x="232.4" y="596.8">27</text><text x="233.5" y="597.2">10</text><text x="234.7" y="596.3">48</text><text x="235.3" y="597.4">1</text><text x="237.1" y="595.6">79</text><text x="237.7" y="596.1">57</text><text x="238.2" y="595.5">86</text><text x="240.0" y="595.4">88</text><text x="241.8" y="596.9">24</text><text x="243.0" y="595.8">72</text><text x="244.1" y="595.3">92</text><text x="244.7" y="596.4">47</text><text x="247.7" y="596.4">44</text><text x="248.2" y="596.7">31</text><text x="249.4" y="596.9">23</text><text x="250.0" y="597.1">15</text><text x="251.8" y="596.0">63</text><text x="253.0" y="596.1">60</text><text x="253.5" y="595.7">75</text><text x="254.7" y="596.0">63</text><text x="255.3" y="596.8">25</text><text x="255.9" y="595.3">94</text><text x="256.5" y="595.2">99</text><text x="257.1" y="596.2">53</text><text x="258.2" y="595.8">71</text><text x="258.8" y="597.3">6</text><text x="259.4" y="595.8">73</text><text x="260.0" y="596.2">55</text><text x="261.2" y="595.1">101</text><text x="261.8" y="596.7">31</text><text x="262.4" y="596.8">28</text><text x="262.9" y="595.7">77</text><text x="264.7" y="597.4">2</text><text x="265.3" y="597.1">15</text><text x="265.9" y="595.5">86</text><text x="267.1" y="595.6">81</text><text x="267.7" y="597.1">15</text><text x="268.2" y="596.2">55</text><text x="270.0" y="595.1">104</text><text x="271.2" y="596.2">54</text><text x="272.4" y="596.7">31</text><text x="272.9" y="596.6">36</text><text x="276.5" y="595.3">92</text><text x="278.2" y="596.4">46</text><text x="279.4" y="595.6">81</text><text x="281.2" y="595.5">85</text><text x="281.8" y="597.4">1</text><text x="282.4" y="595.4">88</text><text x="282.9" y="595.8">70</text><text x="284.1" y="595.2">96</text><text x="284.7" y="595.1">102</text><text x="285.3" y="596.5">38</text><text x="287.1" y="595.0">108</text><text x="287.7" y="594.8">114</text><text x="288.8" y="596.8">26</text><text x="290.0" y="595.9">66</text><text x="290.6" y="595.4">89</text><text x="291.8" y="597.0">20</text><text x="293.5" y="597.3">5</text><text x="294.1" y="594.9">113</text><text x="294.7" y="596.2">52</text><text x="295.9" y="594.5">130</text><text x="297.1" y="594.5">130</text><text x="297.7" y="596.5">40</text><text x="298.2" y="597.0">17</text><text x="301.2" y="595.7">75</text><text x="302.4" y="594.6">123</text><text x="302.9" y="596.8">29</text><text x="304.7" y="596.3">47</text><text x="306.5" y="595.9">69</text><text x="307.1" y="595.6">81</text><text x="308.8" y="594.8">117</text><text x="309.4" y="595.8">74</text><text x="310.0" y="594.6">123</text><text x="311.8" y="594.8">117</text><text x="312.4" y="595.5">86</text><text x="312.9" y="595.1">103</text><text x="313.5" y="597.0">18</text><text x="315.3" y="596.3">49</text><text x="316.5" y="594.3">137</text><text x="317.1" y="597.2">10</text><text x="319.4" y="596.4">43</text><text x="320.0" y="595.7">77</text><text x="320.6" y="597.0">20</text><text x="321.8" y="595.0">107</text><text x="322.4" y="596.6">37</text><text x="323.5" y="594.0">150</text><text x="324.1" y="595.9">67</text><text x="327.6" y="596.1">59</text><text x="328.2" y="595.5">86</text><text x="328.8" y="595.8">69</text><text x="330.0" y="596.7">32</text><text x="334.7" y="596.4">47</text><text x="335.3" y="595.2">97</text><text x="335.9" y="594.6">127</text><text x="337.1" y="595.0">105</text><text x="342.4" y="594.4">132</text><text x="343.5" y="597.2">11</text><text x="344.1" y="596.3">47</text><text x="344.7" y="594.7">119</text><text x="345.9" y="593.8">162</text><text x="347.6" y="595.3">93</text><text x="348.2" y="596.2">54</text><text x="348.8" y="594.8">116</text><text x="349.4" y="597.1">12</text><text x="350.6" y="596.3">50</text><text x="351.8" y="596.6">34</text><text x="352.3" y="597.2">7</text><text x="353.5" y="596.3">49</text><text x="354.1" y="594.0">150</text><text x="354.7" y="596.3">48</text><text x="357.6" y="593.7">166</text><text x="358.2" y="596.2">52</text><text x="360.0" y="594.7">121</text><text x="361.2" y="596.0">63</text><text x="361.8" y="593.9">155</text><text x="362.3" y="596.6">37</text><text x="365.3" y="592.5">216</text><text x="366.5" y="593.0">198</text><text x="368.2" y="592.1">237</text><text x="369.4" y="593.7">164</text><text x="370.6" y="595.4">88</text><text x="373.5" y="594.0">153</text><text x="375.3" y="593.9">154</text><text x="375.9" y="597.0">20</text><text x="377.6" y="597.0">16</text><text x="380.6" y="592.2">231</text><text x="381.8" y="592.2">234</text><text x="382.9" y="597.3">4</text><text x="383.5" y="597.2">11</text><text x="384.7" y="595.2">100</text><text x="385.3" y="594.9">110</text><text x="385.9" y="593.4">178</text><text x="389.4" y="594.5">130</text><text x="390.0" y="594.8">118</text><text x="390.6" y="591.1">282</text><text x="391.2" y="596.9">22</text><text x="392.3" y="590.1">326</text><text x="396.5" y="594.2">143</text><text x="397.0" y="595.4">89</text><text x="400.0" y="589.6">349</text><text x="400.6" y="597.3">3</text><text x="403.5" y="593.6">170</text><text x="404.1" y="592.0">240</text><text x="405.3" y="593.7">163</text><text x="405.9" y="589.0">376</text><text x="407.0" y="589.8">341</text><text x="407.6" y="589.8">340</text><text x="408.8" y="588.9">379</text><text x="411.2" y="588.6">394</text><text x="411.8" y="593.6">171</text><text x="412.3" y="596.4">45</text><text x="413.5" y="596.8">28</text><text x="415.3" y="588.4">401</text><text x="416.5" y="591.7">254</text><text x="417.6" y="592.2">231</text><text x="420.0" y="591.5">264</text><text x="420.6" y="592.8">206</text><text x="424.7" y="594.0">153</text><text x="426.5" y="591.1">282</text><text x="427.0" y="594.4">136</text><text x="428.2" y="590.5">309</text><text x="431.2" y="595.0">105</text><text x="431.8" y="591.3">270</text><text x="432.3" y="589.9">333</text><text x="432.9" y="595.8">70</text><text x="433.5" y="594.5">128</text><text x="434.1" y="592.8">205</text><text x="434.7" y="594.6">126</text><text x="435.9" y="591.2">276</text><text x="436.5" y="593.8">161</text><text x="437.0" y="590.8">296</text><text x="438.8" y="589.7">343</text><text x="439.4" y="595.0">106</text><text x="440.0" y="589.8">338</text><text x="440.6" y="589.4">358</text><text x="442.3" y="589.9">335</text><text x="444.7" y="590.9">288</text><text x="446.5" y="588.4">400</text><text x="447.6" y="591.1">279</text><text x="450.6" y="595.8">71</text><text x="451.7" y="588.0">421</text><text x="454.7" y="592.1">236</text><text x="455.3" y="595.4">87</text><text x="457.0" y="587.1">459</text><text x="460.6" y="587.9">425</text><text x="461.2" y="586.3">496</text><text x="462.9" y="594.5">130</text><text x="464.1" y="588.0">418</text><text x="464.7" y="592.4">223</text><text x="466.5" y="586.1">503</text><text x="467.0" y="590.2">321</text><text x="468.8" y="583.6">617</text><text x="470.6" y="596.7">30</text><text x="471.7" y="587.6">436</text><text x="473.5" y="596.6">35</text><text x="474.7" y="593.6">171</text><text x="476.5" y="593.3">183</text><text x="477.6" y="583.3">628</text><text x="478.2" y="587.2">455</text><text x="479.4" y="586.2">501</text><text x="480.6" y="592.2">230</text><text x="481.2" y="588.6">394</text><text x="481.7" y="584.5">574</text><text x="483.5" y="584.6">571</text><text x="484.7" y="592.3">227</text><text x="486.4" y="584.9">559</text><text x="487.0" y="585.1">550</text><text x="490.0" y="592.8">203</text><text x="490.6" y="586.0">508</text><text x="491.7" y="585.7">523</text><text x="492.3" y="587.1">459</text><text x="495.3" y="589.0">376</text><text x="496.4" y="583.3">627</text><text x="497.6" y="588.4">401</text><text x="498.2" y="586.6">481</text><text x="498.8" y="587.4">445</text><text x="500.6" y="589.4">357</text><text x="501.2" y="580.6">747</text><text x="501.7" y="584.8">562</text><text x="502.3" y="596.6">37</text><text x="504.1" y="588.6">391</text><text x="505.3" y="583.7">612</text><text x="508.8" y="597.3">5</text><text x="511.2" y="585.1">549</text><text x="514.1" y="586.4">491</text><text x="515.3" y="580.4">760</text><text x="517.0" y="592.9">203</text><text x="518.2" y="585.1">550</text><text x="518.8" y="594.9">113</text><text x="519.4" y="583.7">611</text><text x="521.2" y="592.4">221</text><text x="522.9" y="596.2">52</text><text x="523.5" y="584.4">580</text><text x="524.1" y="595.4">90</text><text x="524.7" y="593.4">180</text><text x="527.0" y="596.2">55</text><text x="528.8" y="593.5">173</text><text x="530.6" y="588.0">420</text><text x="532.9" y="594.8">115</text><text x="533.5" y="584.9">558</text><text x="535.3" y="579.6">794</text><text x="535.9" y="590.5">309</text><text x="537.0" y="579.6">796</text><text x="537.6" y="596.3">47</text><text x="538.8" y="589.8">339</text><text x="544.7" y="593.2">188</text><text x="545.3" y="589.4">356</text><text x="546.4" y="594.3">136</text><text x="547.6" y="582.8">651</text><text x="548.8" y="592.2">232</text><text x="549.4" y="593.0">196</text><text x="552.9" y="581.9">690</text><text x="553.5" y="582.1">682</text><text x="557.0" y="591.4">269</text><text x="558.2" y="593.5">172</text><text x="561.7" y="591.5">264</text><text x="562.3" y="589.6">346</text><text x="564.1" y="590.7">299</text><text x="565.8" y="578.4">850</text><text x="567.0" y="582.6">662</text><text x="567.6" y="585.9">512</text><text x="572.3" y="584.2">587</text><text x="573.5" y="595.4">91</text><text x="574.7" y="578.1">863</text><text x="575.3" y="582.5">664</text><text x="577.0" y="578.8">831</text><text x="579.4" y="582.4">669</text><text x="582.3" y="585.0">554</text><text x="582.9" y="595.5">85</text><text x="585.8" y="576.7">924</text><text x="587.0" y="593.4">179</text><text x="589.4" y="589.2">366</text><text x="592.3" y="580.5">752</text><text x="594.7" y="580.0">776</text><text x="595.3" y="580.3">762</text><text x="596.4" y="577.8">874</text><text x="597.6" y="576.6">928</text><text x="598.2" y="584.0">599</text><text x="599.4" y="589.0">373</text><text x="600.0" y="593.7">167</text><text x="602.9" y="586.3">495</text><text x="605.8" y="584.2">591</text><text x="607.6" y="595.2">100</text><text x="611.7" y="589.1">368</text><text x="617.0" y="588.4">401</text><text x="619.4" y="592.8">203</text><text x="621.1" y="575.7">967</text><text x="624.7" y="578.7">836</text><text x="626.4" y="580.5">752</text><text x="631.7" y="595.8">71</text><text x="633.5" y="593.6">170</text><text x="634.1" y="583.1">640</text><text x="637.0" y="593.8">160</text><text x="641.1" y="582.6">660</text><text x="641.7" y="581.8">697</text><text x="644.1" y="592.2">232</text><text x="645.3" y="585.3">541</text><text x="645.8" y="588.6">393</text><text x="646.4" y="580.2">766</text><text x="649.4" y="588.7">389</text><text x="650.5" y="593.7">167</text><text x="651.7" y="588.5">397</text><text x="652.3" y="591.3">270</text><text x="655.8" y="576.9">914</text><text x="656.4" y="578.0">865</text><text x="657.0" y="588.3">407</text><text x="658.2" y="573.6">1,064</text><text x="660.0" y="576.6">926</text><text x="664.1" y="592.6">214</text><text x="677.0" y="577.5">886</text><text x="679.4" y="593.7">166</text><text x="681.7" y="585.4">537</text><text x="682.3" y="579.0">821</text><text x="682.9" y="595.3">94</text><text x="687.0" y="582.9">649</text><text x="688.2" y="585.5">532</text><text x="690.5" y="573.6">1,064</text><text x="695.8" y="579.0">821</text><text x="696.4" y="593.5">173</text><text x="698.2" y="575.1">994</text><text x="699.9" y="591.5">265</text><text x="702.3" y="582.9">648</text><text x="711.1" y="574.9">1,004</text><text x="711.7" y="575.8">964</text><text x="717.0" y="585.2">542</text><text x="725.2" y="571.5">1,155</text><text x="728.2" y="571.7">1,148</text><text x="729.4" y="593.1">192</text><text x="732.9" y="582.3">672</text><text x="733.5" y="578.7">835</text><text x="735.2" y="578.8">831</text><text x="735.8" y="584.8">560</text><text x="738.8" y="575.8">963</text><text x="742.9" y="573.9">1,047</text><text x="745.8" y="585.5">531</text><text x="748.2" y="582.1">680</text><text x="749.4" y="591.0">287</text><text x="751.7" y="579.0">821</text><text x="757.6" y="575.5">977</text><text x="763.5" y="577.8">875</text><text x="764.1" y="576.4">936</text><text x="769.4" y="582.8">651</text><text x="773.5" y="569.0">1,268</text><text x="774.6" y="582.6">660</text><text x="785.8" y="574.9">1,003</text><text x="788.2" y="572.3">1,120</text><text x="791.1" y="569.2">1,257</text><text x="794.6" y="583.9">603</text><text x="796.4" y="593.8">159</text><text x="799.3" y="566.4">1,384</text><text x="801.7" y="571.1">1,174</text><text x="816.4" y="593.4">179</text><text x="818.8" y="586.1">506</text><text x="821.1" y="588.0">421</text><text x="823.5" y="577.6">883</text><text x="824.1" y="587.3">452</text><text x="824.6" y="570.0">1,223</text><text x="827.6" y="570.0">1,223</text><text x="831.7" y="568.5">1,291</text><text x="832.9" y="582.9">646</text><text x="842.3" y="582.6">662</text><text x="845.8" y="573.2">1,082</text><text x="858.2" y="574.1">1,041</text><text x="859.9" y="579.9">782</text><text x="861.7" y="594.9">110</text><text x="864.6" y="590.8">295</text><text x="865.8" y="592.1">236</text><text x="867.0" y="575.7">967</text><text x="872.9" y="583.2">632</text><text x="875.8" y="576.1">952</text><text x="879.9" y="565.5">1,422</text><text x="881.7" y="588.5">397</text><text x="887.6" y="577.2">901</text><text x="890.5" y="589.3">363</text><text x="892.9" y="594.4">134</text><text x="898.7" y="587.6">438</text><text x="903.5" y="566.0">1,401</text><text x="911.1" y="575.3">984</text><text x="924.6" y="579.4">805</text><text x="925.2" y="560.4">1,650</text><text x="928.7" y="593.8">162</text><text x="937.0" y="569.9">1,228</text><text x="946.4" y="559.8">1,679</text><text x="951.7" y="575.0">999</text><text x="955.2" y="560.2">1,658</text><text x="957.6" y="553.4">1,962</text><text x="958.7" y="580.8">739</text><text x="969.9" y="565.5">1,423</text><text x="972.3" y="592.1">237</text><text x="974.6" y="574.4">1,027</text><text x="978.1" y="564.5">1,470</text><text x="979.3" y="588.3">404</text><text x="982.3" y="581.0">729</text><text x="991.7" y="573.2">1,079</text><text x="992.3" y="580.7">744</text><text x="995.2" y="585.0">552</text><text x="1002.3" y="553.4">1,961</text><text x="1005.8" y="556.9">1,808</text><text x="1009.3" y="595.8">72</text><text x="1013.4" y="564.7">1,459</text><text x="1021.7" y="572.7">1,101</text><text x="1022.3" y="574.0">1,044</text><text x="1022.8" y="547.6">2,223</text><text x="1025.8" y="570.6">1,198</text><text x="1027.6" y="547.0">2,250</text><text x="1038.1" y="581.1">725</text><text x="1038.7" y="550.0">2,116</text><text x="1041.1" y="546.6">2,267</text><text x="1051.1" y="595.9">66</text><text x="1052.3" y="561.0">1,622</text><text x="1058.1" y="575.3">987</text><text x="1062.3" y="562.7">1,549</text><text x="1068.7" y="548.2">2,195</text><text x="410.5" y="585.5">530</text><text x="440.0" y="581.6">703</text><text x="470.1" y="574.5">1,022</text><text x="507.0" y="573.4">1,072</text><text x="536.5" y="573.7">1,058</text><text x="591.5" y="571.8">1,142</text><text x="642.0" y="569.3">1,255</text><text x="673.0" y="566.4">1,382</text><text x="702.5" y="566.4">1,382</text><text x="733.5" y="566.4">1,384</text><text x="743.5" y="561.9">1,585</text><text x="773.9" y="560.4">1,649</text><text x="804.4" y="557.9">1,760</text><text x="835.0" y="561.9">1,582</text><text x="866.0" y="555.3">1,878</text><text x="897.5" y="552.6">1,998</text><text x="927.5" y="547.3">2,236</text><text x="958.0" y="538.9">2,608</text><text x="982.7" y="545.0">2,337</text><text x="989.3" y="529.3">3,037</text><text x="1012.0" y="543.7">2,397</text><text x="1018.8" y="528.4">3,076</text><text x="1039.5" y="541.8">2,479</text><text x="1060.5" y="533.2">2,862</text></g>
<path d="M124.5 596V596M125.5 596V595M126.5 596V594M126.5 596V595M127.5 596V596M127.5 596V595M128.5 596V595M128.5 596V595M129.5 596V595M130.5 596V595M130.5 596V595M131.5 596V594M131.5 596V594M132.5 596V595M133.5 596V595M133.5 596V594M134.5 596V594M134.5 596V595M135.5 596V595M136.5 596V596M136.5 596V595M137.5 596V596M137.5 596V595M138.5 596V595M138.5 596V595M139.5 596V596M140.5 596V596M140.5 596V595M141.5 596V595M141.5 596V595M142.5 596V595M143.5 596V594M143.5 596V595M144.5 596V594M144.5 596V595M145.5 596V595M146.5 596V596M146.5 596V595M147.5 596V595M147.5 596V595M148.5 596V595M148.5 596V594M149.5 596V596M150.5 596V595M150.5 596V594M151.5 596V595M151.5 596V595M152.5 596V594M153.5 596V594M153.5 596V595M154.5 596V595M154.5 596V594M155.5 596V595M156.5 596V596M156.5 596V595M157.5 596V595M157.5 596V594M158.5 596V595M158.5 596V594M159.5 596V594M160.5 596V596M160.5 596V595M161.5 596V595M161.5 596V595M162.5 596V595M163.5 596V594M163.5 596V595M164.5 596V596M164.5 596V595M165.5 596V594M166.5 596V595M166.5 596V595M167.5 596V596M167.5 596V595M168.5 596V596M168.5 596V595M169.5 596V594M170.5 596V595M170.5 596V594M171.5 596V596M171.5 596V596M172.5 596V595M173.5 596V595M173.5 596V595M174.5 596V595M174.5 596V595M175.5 596V594M176.5 596V595M176.5 596V595M177.5 596V595M177.5 596V595M178.5 596V594M178.5 596V595M179.5 596V595M180.5 596V594M180.5 596V595M181.5 596V594M181.5 596V595M182.5 596V596M183.5 596V595M183.5 596V596M184.5 596V594M184.5 596V596M185.5 596V595M186.5 596V595M186.5 596V595M187.5 596V594M187.5 596V595M188.5 596V594M188.5 596V595M189.5 596V595M190.5 596V595M190.5 596V596M191.5 596V596M191.5 596V595M192.5 596V596M193.5 596V594M193.5 596V595M194.5 596V595M194.5 596V594M195.5 596V594M196.5 596V596M196.5 596V594M197.5 596V596M197.5 596V596M198.5 596V595M198.5 596V595M199.5 596V596M200.5 596V596M200.5 596V595M201.5 596V595M201.5 596V596M202.5 596V595M203.5 596V594M203.5 596V595M204.5 596V596M204.5 596V594M205.5 596V595M206.5 596V594M206.5 596V595M207.5 596V594M207.5 596V595M208.5 596V594M208.5 596V595M209.5 596V595M210.5 596V595M210.5 596V595M211.5 596V595M211.5 596V596M212.5 596V594M213.5 596V595M213.5 596V595M214.5 596V594M214.5 596V595M215.5 596V595M216.5 596V595M216.5 596V594M217.5 596V595M217.5 596V594M218.5 596V595M218.5 596V595M219.5 596V595M220.5 596V595M220.5 596V595M221.5 596V596M221.5 596V596M222.5 596V596M223.5 596V594M223.5 596V594M224.5 596V595M224.5 596V596M225.5 596V595M226.5 596V594M226.5 596V595M227.5 596V594M227.5 596V595M228.5 596V596M228.5 596V594M229.5 596V595M230.5 596V596M230.5 596V595M231.5 596V594M231.5 596V594M232.5 596V595M233.5 596V594M233.5 596V594M234.5 596V595M234.5 596V595M235.5 596V594M236.5 596V596M236.5 596V594M237.5 596V595M237.5 596V596M238.5 596V595M238.5 596V594M239.5 596V594M240.5 596V595M240.5 596V594M241.5 596V594M241.5 596V594M242.5 596V594M243.5 596V594M243.5 596V596M244.5 596V595M244.5 596V595M245.5 596V594M246.5 596V596M246.5 596V594M247.5 596V595M247.5 596V595M248.5 596V594M248.5 596V595M249.5 596V595M250.5 596V595M250.5 596V595M251.5 596V595M251.5 596V595M252.5 596V595M253.5 596V595M253.5 596V595M254.5 596V594M254.5 596V594M255.5 596V594M256.5 596V594M256.5 596V594M257.5 596V594M257.5 596V595M258.5 596V594M258.5 596V594M259.5 596V595M260.5 596V594M260.5 596V594M261.5 596V596M261.5 596V594M262.5 596V595M263.5 596V594M263.5 596V594M264.5 596V595M264.5 596V595M265.5 596V594M266.5 596V594M266.5 596V594M267.5 596V596M267.5 596V595M268.5 596V594M268.5 596V594M269.5 596V594M270.5 596V595M270.5 596V595M271.5 596V594M271.5 596V596M272.5 596V593M273.5 596V596M273.5 596V595M274.5 596V594M274.5 596V595M275.5 596V595M276.5 596V594M276.5 596V595M277.5 596V594M277.5 596V595M278.5 596V596M278.5 596V594M279.5 596V595M280.5 596V595M280.5 596V595M281.5 596V596M281.5 596V594M282.5 596V596M283.5 596V594M283.5 596V594M284.5 596V596M284.5 596V594M285.5 596V594M286.5 596V594M286.5 596V594M287.5 596V594M287.5 596V595M288.5 596V593M288.5 596V594M289.5 596V593M290.5 596V593M290.5 596V594M291.5 596V595M291.5 596V594M292.5 596V594M293.5 596V594M293.5 596V596M294.5 596V595M294.5 596V593M295.5 596V595M296.5 596V596M296.5 596V593M297.5 596V595M297.5 596V593M298.5 596V593M298.5 596V593M299.5 596V593M300.5 596V595M300.5 596V595M301.5 596V596M301.5 596V593M302.5 596V593M303.5 596V594M303.5 596V594M304.5 596V595M304.5 596V593M305.5 596V595M306.5 596V593M306.5 596V596M307.5 596V595M307.5 596V594M308.5 596V593M308.5 596V594M309.5 596V594M310.5 596V596M310.5 596V596M311.5 596V593M311.5 596V594M312.5 596V593M313.5 596V593M313.5 596V596M314.5 596V593M314.5 596V594M315.5 596V593M316.5 596V595M316.5 596V594M317.5 596V594M317.5 596V595M318.5 596V593M318.5 596V593M319.5 596V596M320.5 596V593M320.5 596V596M321.5 596V593M321.5 596V595M322.5 596V594M323.5 596V595M323.5 596V594M324.5 596V593M324.5 596V595M325.5 596V595M326.5 596V592M326.5 596V594M327.5 596V595M327.5 596V593M328.5 596V593M328.5 596V595M329.5 596V592M330.5 596V594M330.5 596V594M331.5 596V594M331.5 596V595M332.5 596V595M333.5 596V594M333.5 596V594M334.5 596V592M334.5 596V594M335.5 596V594M336.5 596V595M336.5 596V593M337.5 596V595M337.5 596V594M338.5 596V593M338.5 596V594M339.5 596V593M340.5 596V595M340.5 596V593M341.5 596V595M341.5 596V592M342.5 596V593M343.5 596V596M343.5 596V595M344.5 596V594M344.5 596V593M345.5 596V595M346.5 596V596M346.5 596V595M347.5 596V593M347.5 596V593M348.5 596V592M348.5 596V595M349.5 596V595M350.5 596V594M350.5 596V595M351.5 596V593M351.5 596V596M352.5 596V594M353.5 596V595M353.5 596V593M354.5 596V595M354.5 596V596M355.5 596V594M356.5 596V595M356.5 596V592M357.5 596V595M357.5 596V595M358.5 596V595M358.5 596V592M359.5 596V593M360.5 596V592M360.5 596V595M361.5 596V595M361.5 596V594M362.5 596V593M363.5 596V593M363.5 596V594M364.5 596V592M364.5 596V595M365.5 596V592M366.5 596V595M366.5 596V591M367.5 596V592M367.5 596V591M368.5 596V595M368.5 596V591M369.5 596V592M370.5 596V594M370.5 596V590M371.5 596V596M371.5 596V592M372.5 596V591M373.5 596V594M373.5 596V591M374.5 596V595M374.5 596V593M375.5 596V595M376.5 596V592M376.5 596V595M377.5 596V595M377.5 596V592M378.5 596V595M378.5 596V595M379.5 596V595M380.5 596V595M380.5 596V594M381.5 596V592M381.5 596V591M382.5 596V590M383.5 596V591M383.5 596V593M384.5 596V591M384.5 596V595M385.5 596V596M386.5 596V596M386.5 596V595M387.5 596V594M387.5 596V593M388.5 596V592M388.5 596V595M389.5 596V592M390.5 596V590M390.5 596V594M391.5 596V590M391.5 596V593M392.5 596V593M393.5 596V589M393.5 596V595M394.5 596V593M394.5 596V588M395.5 596V592M396.5 596V594M396.5 596V589M397.5 596V595M397.5 596V592M398.5 596V590M398.5 596V593M399.5 596V594M400.5 596V595M400.5 596V595M401.5 596V591M401.5 596V594M402.5 596V588M403.5 596V596M403.5 596V594M404.5 596V592M404.5 596V594M405.5 596V594M406.5 596V592M406.5 596V590M407.5 596V588M407.5 596V592M408.5 596V587M408.5 596V594M409.5 596V588M410.5 596V588M410.5 596V594M411.5 596V587M411.5 596V594M412.5 596V588M413.5 596V595M413.5 596V587M414.5 596V592M414.5 596V595M415.5 596V587M416.5 596V595M416.5 596V596M417.5 596V587M417.5 596V587M418.5 596V590M419.5 596V588M420.5 596V591M420.5 596V591M421.5 596V590M421.5 596V590M422.5 596V590M423.5 596V591M423.5 596V591M424.5 596V590M424.5 596V588M425.5 596V592M426.5 596V586M426.5 596V594M427.5 596V592M427.5 596V594M428.5 596V595M428.5 596V589M429.5 596V593M430.5 596V590M430.5 596V589M431.5 596V591M431.5 596V591M432.5 596V591M433.5 596V595M433.5 596V593M434.5 596V590M434.5 596V588M435.5 596V594M436.5 596V593M436.5 596V591M437.5 596V593M437.5 596V590M438.5 596V590M438.5 596V592M439.5 596V589M440.5 596V591M440.5 596V594M441.5 596V588M441.5 596V593M442.5 596V588M443.5 596V588M443.5 596V592M444.5 596V594M444.5 596V588M445.5 596V591M446.5 596V584M446.5 596V590M447.5 596V589M447.5 596V593M448.5 596V584M448.5 596V587M449.5 596V595M450.5 596V590M450.5 596V591M451.5 596V585M451.5 596V594M452.5 596V589M453.5 596V594M453.5 596V584M454.5 596V586M454.5 596V592M455.5 596V586M456.5 596V591M457.5 596V591M457.5 596V594M458.5 596V583M458.5 596V584M459.5 596V586M460.5 596V587M460.5 596V586M461.5 596V585M461.5 596V594M462.5 596V593M463.5 596V586M463.5 596V585M464.5 596V588M464.5 596V594M465.5 596V593M466.5 596V592M466.5 596V586M467.5 596V591M467.5 596V589M468.5 596V594M468.5 596V585M469.5 596V589M470.5 596V587M470.5 596V590M471.5 596V582M471.5 596V585M472.5 596V594M473.5 596V595M473.5 596V592M474.5 596V586M474.5 596V593M475.5 596V588M476.5 596V595M476.5 596V591M477.5 596V592M477.5 596V582M478.5 596V594M478.5 596V592M479.5 596V592M480.5 596V582M480.5 596V586M481.5 596V581M481.5 596V585M482.5 596V583M483.5 596V591M483.5 596V587M484.5 596V583M484.5 596V582M485.5 596V585M486.5 596V583M486.5 596V581M487.5 596V591M487.5 596V589M488.5 596V592M488.5 596V583M489.5 596V583M490.5 596V584M490.5 596V582M491.5 596V585M492.5 596V591M493.5 596V584M494.5 596V584M494.5 596V586M496.5 596V581M496.5 596V583M497.5 596V583M497.5 596V587M498.5 596V580M498.5 596V582M499.5 596V596M500.5 596V587M500.5 596V585M501.5 596V586M501.5 596V584M502.5 596V589M503.5 596V588M503.5 596V579M504.5 596V583M504.5 596V595M505.5 596V585M506.5 596V594M506.5 596V587M507.5 596V581M507.5 596V582M508.5 596V596M508.5 596V594M510.5 596V581M510.5 596V593M511.5 596V596M511.5 596V588M512.5 596V582M513.5 596V581M513.5 596V583M514.5 596V588M514.5 596V578M515.5 596V592M516.5 596V580M516.5 596V585M517.5 596V584M517.5 596V579M518.5 596V591M518.5 596V588M519.5 596V591M520.5 596V583M521.5 596V593M521.5 596V582M522.5 596V588M523.5 596V595M523.5 596V591M524.5 596V585M525.5 596V595M526.5 596V583M526.5 596V594M527.5 596V592M527.5 596V587M528.5 596V595M528.5 596V594M529.5 596V595M530.5 596V592M530.5 596V594M531.5 596V592M531.5 596V594M532.5 596V594M533.5 596V586M533.5 596V587M534.5 596V582M534.5 596V585M535.5 596V593M536.5 596V583M536.5 596V578M537.5 596V592M537.5 596V578M538.5 596V589M538.5 596V587M539.5 596V578M540.5 596V595M540.5 596V579M541.5 596V588M541.5 596V590M542.5 596V581M543.5 596V585M543.5 596V579M544.5 596V589M544.5 596V587M545.5 596V582M545.5 596V588M546.5 596V591M547.5 596V592M547.5 596V588M548.5 596V582M548.5 596V593M549.5 596V580M550.5 596V581M550.5 596V579M551.5 596V591M551.5 596V591M552.5 596V578M553.5 596V588M553.5 596V594M554.5 596V589M554.5 596V593M555.5 596V580M555.5 596V581M556.5 596V592M557.5 596V588M557.5 596V590M558.5 596V590M558.5 596V580M559.5 596V590M560.5 596V595M560.5 596V592M561.5 596V585M561.5 596V591M562.5 596V581M563.5 596V594M564.5 596V590M564.5 596V588M565.5 596V590M565.5 596V585M566.5 596V589M567.5 596V581M567.5 596V590M568.5 596V577M568.5 596V586M569.5 596V581M570.5 596V584M571.5 596V588M571.5 596V578M572.5 596V577M573.5 596V581M573.5 596V593M574.5 596V579M574.5 596V583M575.5 596V580M575.5 596V594M576.5 596V594M577.5 596V576M577.5 596V581M578.5 596V579M578.5 596V592M579.5 596V577M580.5 596V594M580.5 596V581M581.5 596V588M581.5 596V581M582.5 596V576M583.5 596V584M583.5 596V595M584.5 596V577M584.5 596V583M585.5 596V594M585.5 596V591M586.5 596V584M587.5 596V578M587.5 596V594M588.5 596V575M588.5 596V587M589.5 596V592M590.5 596V576M590.5 596V592M591.5 596V576M591.5 596V588M592.5 596V581M593.5 596V590M593.5 596V588M594.5 596V576M594.5 596V579M595.5 596V577M595.5 596V589M596.5 596V588M597.5 596V578M597.5 596V579M598.5 596V581M598.5 596V576M599.5 596V578M600.5 596V575M600.5 596V582M601.5 596V575M601.5 596V587M602.5 596V592M603.5 596V584M603.5 596V586M604.5 596V592M605.5 596V585M605.5 596V580M607.5 596V590M608.5 596V583M608.5 596V594M609.5 596V576M610.5 596V594M610.5 596V590M611.5 596V591M612.5 596V583M613.5 596V575M613.5 596V595M614.5 596V588M614.5 596V577M615.5 596V580M615.5 596V593M616.5 596V592M617.5 596V591M617.5 596V584M618.5 596V581M619.5 596V587M620.5 596V588M620.5 596V588M621.5 596V583M621.5 596V591M623.5 596V584M623.5 596V574M624.5 596V596M624.5 596V581M625.5 596V586M626.5 596V576M627.5 596V577M627.5 596V576M628.5 596V594M628.5 596V579M630.5 596V583M631.5 596V592M631.5 596V583M632.5 596V590M633.5 596V585M633.5 596V577M634.5 596V594M634.5 596V589M635.5 596V592M635.5 596V592M636.5 596V581M637.5 596V579M637.5 596V594M638.5 596V594M638.5 596V590M639.5 596V592M640.5 596V584M640.5 596V589M641.5 596V593M641.5 596V579M642.5 596V579M643.5 596V573M643.5 596V581M644.5 596V580M645.5 596V582M645.5 596V584M646.5 596V591M647.5 596V591M647.5 596V584M648.5 596V587M648.5 596V579M649.5 596V578M650.5 596V580M650.5 596V595M651.5 596V590M651.5 596V587M652.5 596V575M653.5 596V592M653.5 596V588M654.5 596V587M654.5 596V590M655.5 596V578M655.5 596V580M656.5 596V590M657.5 596V580M657.5 596V586M658.5 596V575M658.5 596V576M659.5 596V587M660.5 596V587M660.5 596V572M661.5 596V594M661.5 596V583M662.5 596V575M663.5 596V582M663.5 596V580M664.5 596V586M664.5 596V580M665.5 596V576M666.5 596V591M667.5 596V592M667.5 596V593M668.5 596V582M668.5 596V576M670.5 596V595M670.5 596V589M671.5 596V574M671.5 596V591M672.5 596V594M673.5 596V573M673.5 596V589M674.5 596V573M674.5 596V584M675.5 596V577M675.5 596V590M676.5 596V577M677.5 596V578M678.5 596V578M678.5 596V584M679.5 596V576M680.5 596V593M680.5 596V575M681.5 596V586M681.5 596V592M682.5 596V585M683.5 596V595M683.5 596V588M684.5 596V584M684.5 596V577M685.5 596V594M685.5 596V584M686.5 596V596M687.5 596V572M688.5 596V585M688.5 596V586M689.5 596V581M690.5 596V573M690.5 596V584M691.5 596V579M691.5 596V581M692.5 596V588M693.5 596V572M693.5 596V583M695.5 596V576M695.5 596V591M696.5 596V585M697.5 596V595M697.5 596V581M698.5 596V577M698.5 596V592M699.5 596V592M700.5 596V595M700.5 596V574M701.5 596V589M701.5 596V588M702.5 596V590M703.5 596V585M704.5 596V575M704.5 596V581M705.5 596V591M705.5 596V583M707.5 596V576M707.5 596V571M708.5 596V589M708.5 596V589M709.5 596V574M710.5 596V590M710.5 596V573M711.5 596V595M711.5 596V596M712.5 596V577M713.5 596V573M714.5 596V574M714.5 596V577M716.5 596V571M717.5 596V583M717.5 596V589M718.5 596V587M718.5 596V575M719.5 596V584M720.5 596V573M720.5 596V585M721.5 596V594M722.5 596V580M723.5 596V594M723.5 596V576M724.5 596V569M724.5 596V571M725.5 596V580M725.5 596V581M727.5 596V569M727.5 596V570M728.5 596V595M728.5 596V576M730.5 596V585M730.5 596V570M731.5 596V573M731.5 596V592M732.5 596V574M733.5 596V570M733.5 596V593M734.5 596V577M735.5 596V581M735.5 596V577M736.5 596V588M737.5 596V586M737.5 596V577M738.5 596V583M738.5 596V574M739.5 596V588M740.5 596V578M740.5 596V580M741.5 596V574M741.5 596V572M742.5 596V570M743.5 596V583M745.5 596V572M745.5 596V573M746.5 596V584M747.5 596V581M748.5 596V584M748.5 596V580M749.5 596V568M750.5 596V573M750.5 596V581M751.5 596V569M751.5 596V589M752.5 596V588M753.5 596V583M753.5 596V584M754.5 596V577M754.5 596V583M755.5 596V575M755.5 596V572M756.5 596V595M757.5 596V573M757.5 596V589M758.5 596V577M758.5 596V578M759.5 596V586M760.5 596V574M760.5 596V570M761.5 596V588M761.5 596V586M762.5 596V571M763.5 596V592M763.5 596V583M764.5 596V569M764.5 596V570M765.5 596V575M765.5 596V576M766.5 596V575M767.5 596V591M767.5 596V589M768.5 596V567M769.5 596V571M770.5 596V575M771.5 596V572M771.5 596V581M773.5 596V595M774.5 596V595M775.5 596V567M776.5 596V567M777.5 596V581M778.5 596V576M778.5 596V580M779.5 596V592M780.5 596V574M781.5 596V585M781.5 596V593M782.5 596V579M783.5 596V573M783.5 596V579M784.5 596V582M785.5 596V582M786.5 596V588M787.5 596V571M788.5 596V573M789.5 596V593M790.5 596V592M790.5 596V571M791.5 596V577M792.5 596V591M793.5 596V578M793.5 596V568M794.5 596V584M794.5 596V568M795.5 596V565M795.5 596V568M796.5 596V590M797.5 596V582M797.5 596V586M798.5 596V571M798.5 596V592M799.5 596V577M800.5 596V594M800.5 596V585M801.5 596V565M801.5 596V565M802.5 596V566M803.5 596V590M803.5 596V581M804.5 596V569M804.5 596V592M805.5 596V571M805.5 596V591M806.5 596V583M807.5 596V579M808.5 596V568M808.5 596V570M809.5 596V591M810.5 596V569M810.5 596V572M811.5 596V567M813.5 596V578M813.5 596V591M814.5 596V591M815.5 596V565M816.5 596V570M817.5 596V581M817.5 596V567M818.5 596V573M818.5 596V592M819.5 596V593M820.5 596V576M821.5 596V584M822.5 596V594M823.5 596V586M823.5 596V586M825.5 596V571M825.5 596V576M826.5 596V586M827.5 596V568M828.5 596V564M828.5 596V584M830.5 596V568M830.5 596V576M831.5 596V593M833.5 596V587M833.5 596V573M834.5 596V567M835.5 596V581M835.5 596V569M836.5 596V596M837.5 596V588M837.5 596V593M838.5 596V582M839.5 596V574M840.5 596V570M840.5 596V580M841.5 596V580M842.5 596V571M843.5 596V584M844.5 596V574M844.5 596V581M845.5 596V577M846.5 596V565M847.5 596V592M847.5 596V562M848.5 596V572M848.5 596V585M849.5 596V595M850.5 596V571M851.5 596V593M853.5 596V561M854.5 596V584M855.5 596V584M855.5 596V566M856.5 596V592M857.5 596V574M857.5 596V576M858.5 596V563M858.5 596V577M859.5 596V573M860.5 596V572M861.5 596V582M861.5 596V581M862.5 596V578M863.5 596V567M863.5 596V584M864.5 596V593M865.5 596V568M865.5 596V566M866.5 596V575M867.5 596V589M867.5 596V565M868.5 596V591M868.5 596V588M869.5 596V574M870.5 596V584M871.5 596V576M871.5 596V588M872.5 596V570M873.5 596V586M874.5 596V595M874.5 596V593M875.5 596V582M875.5 596V583M876.5 596V591M877.5 596V574M878.5 596V574M878.5 596V562M879.5 596V578M880.5 596V581M881.5 596V594M882.5 596V564M883.5 596V562M884.5 596V587M884.5 596V591M886.5 596V568M887.5 596V567M888.5 596V592M889.5 596V581M890.5 596V576M891.5 596V586M892.5 596V566M893.5 596V588M893.5 596V595M894.5 596V566M894.5 596V573M895.5 596V593M895.5 596V559M896.5 596V579M897.5 596V589M897.5 596V577M898.5 596V585M898.5 596V577M900.5 596V563M900.5 596V582M901.5 596V586M901.5 596V561M903.5 596V572M903.5 596V595M904.5 596V578M905.5 596V564M906.5 596V562M907.5 596V589M908.5 596V570M908.5 596V559M910.5 596V570M910.5 596V587M911.5 596V557M911.5 596V561M912.5 596V569M913.5 596V562M913.5 596V574M914.5 596V564M915.5 596V579M916.5 596V574M917.5 596V576M918.5 596V593M919.5 596V581M920.5 596V561M920.5 596V578M921.5 596V595M921.5 596V559M922.5 596V593M923.5 596V557M924.5 596V568M924.5 596V584M925.5 596V556M925.5 596V577M926.5 596V574M927.5 596V578M927.5 596V559M928.5 596V564M928.5 596V556M929.5 596V594M930.5 596V582M930.5 596V583M931.5 596V592M931.5 596V581M932.5 596V567M933.5 596V570M934.5 596V559M934.5 596V590M937.5 596V590M937.5 596V558M938.5 596V568M938.5 596V560M939.5 596V568M940.5 596V575M940.5 596V594M941.5 596V555M941.5 596V594M942.5 596V589M943.5 596V595M944.5 596V570M944.5 596V564M945.5 596V569M947.5 596V559M948.5 596V572M948.5 596V558M949.5 596V590M950.5 596V553M950.5 596V591M951.5 596V571M952.5 596V562M953.5 596V573M953.5 596V577M954.5 596V573M954.5 596V571M955.5 596V557M955.5 596V582M956.5 596V572M957.5 596V568M957.5 596V559M958.5 596V567M959.5 596V557M960.5 596V552M960.5 596V594M961.5 596V579M961.5 596V551M962.5 596V571M963.5 596V581M964.5 596V577M964.5 596V595M965.5 596V573M965.5 596V584M967.5 596V552M967.5 596V582M971.5 596V572M972.5 596V564M973.5 596V592M973.5 596V557M974.5 596V551M974.5 596V590M975.5 596V550M975.5 596V592M976.5 596V590M977.5 596V573M978.5 596V569M978.5 596V549M980.5 596V571M980.5 596V563M981.5 596V573M981.5 596V587M984.5 596V595M984.5 596V579M985.5 596V581M986.5 596V550M987.5 596V563M988.5 596V552M988.5 596V569M989.5 596V552M990.5 596V573M991.5 596V578M991.5 596V560M992.5 596V551M992.5 596V578M993.5 596V587M994.5 596V572M994.5 596V579M995.5 596V551M996.5 596V574M997.5 596V583M998.5 596V549M998.5 596V576M1000.5 596V570M1001.5 596V572M1001.5 596V594M1003.5 596V594M1004.5 596V580M1004.5 596V552M1005.5 596V587M1005.5 596V566M1006.5 596V556M1007.5 596V565M1007.5 596V582M1008.5 596V555M1008.5 596V561M1009.5 596V549M1010.5 596V574M1010.5 596V546M1011.5 596V589M1011.5 596V594M1012.5 596V576M1012.5 596V545M1014.5 596V568M1015.5 596V563M1016.5 596V595M1017.5 596V551M1018.5 596V568M1019.5 596V572M1020.5 596V587M1021.5 596V572M1021.5 596V562M1022.5 596V566M1023.5 596V555M1024.5 596V571M1024.5 596V572M1025.5 596V546M1025.5 596V595M1026.5 596V550M1027.5 596V569M1027.5 596V571M1028.5 596V569M1030.5 596V545M1030.5 596V559M1031.5 596V583M1032.5 596V545M1032.5 596V582M1033.5 596V567M1034.5 596V588M1035.5 596V545M1036.5 596V563M1037.5 596V565M1037.5 596V551M1038.5 596V547M1038.5 596V553M1039.5 596V578M1040.5 596V545M1040.5 596V580M1041.5 596V548M1041.5 596V583M1042.5 596V549M1043.5 596V545M1044.5 596V545M1044.5 596V574M1045.5 596V566M1045.5 596V575M1046.5 596V566M1047.5 596V580M1047.5 596V555M1048.5 596V541M1048.5 596V559M1049.5 596V567M1050.5 596V553M1050.5 596V595M1051.5 596V583M1052.5 596V542M1052.5 596V580M1053.5 596V594M1054.5 596V555M1054.5 596V559M1055.5 596V586M1055.5 596V595M1056.5 596V596M1057.5 596V575M1058.5 596V571M1060.5 596V574M1061.5 596V551M1063.5 596V554M1064.5 596V544M1064.5 596V561M1065.5 596V552M1066.5 596V583M1067.5 596V539M1068.5 596V563M1069.5 596V596M1070.5 596V548M1071.5 596V547M1072.5 596V545M413.5 596V584M442.5 596V580M472.5 596V573M509.5 596V572M539.5 596V572M594.5 596V570M644.5 596V568M675.5 596V565M705.5 596V565M736.5 596V565M746.5 596V560M776.5 596V559M806.5 596V556M837.5 596V560M868.5 596V554M900.5 596V551M930.5 596V546M960.5 596V537M985.5 596V543M991.5 596V528M1014.5 596V542M1021.5 596V527M1042.5 596V540M1063.5 596V532" stroke="#008000" stroke-width="1" fill="none" shape-rendering="crispEdges"/>
<defs><linearGradient id="zl" x1="0" y1="0" x2="1" y2="0"><stop offset="0" stop-color="#000" stop-opacity="0"/><stop offset="0.45" stop-color="#000" stop-opacity="0.15"/><stop offset="1" stop-color="#000" stop-opacity="0.75"/></linearGradient></defs>
<rect x="122" y="596" width="952" height="1" fill="url(#zl)"/>
<path d="M187.0 591.0 L188.1 590.4 L189.2 590.0 L190.2 589.9 L191.3 588.9 L192.3 588.5 L193.2 588.2 L194.2 587.9 L195.4 588.2 L196.5 588.0 L197.7 588.6 L198.8 588.9 L200.0 589.0 L201.2 589.2 L202.5 588.5 L203.8 588.6 L205.0 588.3 L206.2 589.0 L207.5 588.8 L208.8 588.1 L210.0 588.5 L211.2 589.0 L212.4 588.9 L213.6 588.5 L214.8 588.5 L216.1 588.0 L217.3 587.8 L218.5 588.3 L219.7 588.2 L220.4 584.6 L221.7 583.6 L223.0 583.2 L224.3 582.7 L225.6 581.9 L226.9 581.8 L228.2 581.3 L229.3 581.3 L230.5 581.9 L231.6 581.6 L232.8 581.8 L233.9 581.8 L235.1 582.0 L236.3 582.4 L237.4 582.5 L238.6 582.5 L239.8 583.5 L241.0 583.2 L241.7 584.2 L242.4 584.2 L243.6 584.6 L244.8 584.4 L246.0 584.2 L247.1 581.0 L248.1 578.2 L249.4 577.6 L250.6 577.3 L251.9 576.8 L253.1 577.2 L254.4 576.5 L255.6 576.7 L256.9 575.9 L258.1 576.2 L259.4 575.4 L260.6 576.2 L261.8 575.8 L262.9 576.5 L264.1 577.7 L265.3 577.7 L266.5 578.2 L267.6 578.7 L268.8 578.1 L269.9 577.7 L271.1 578.3 L272.2 578.2 L273.4 578.0 L274.6 577.0 L275.8 576.4 L276.9 576.2 L278.1 576.4 L279.3 575.4 L280.5 576.0 L281.7 575.7 L282.9 576.2 L284.0 576.4 L285.2 576.7 L286.4 577.5 L287.3 576.9 L288.3 575.3 L289.2 574.7 L290.5 574.7 L291.7 574.5 L293.0 574.1 L294.3 574.6 L295.5 573.9 L296.8 574.4 L298.1 573.7 L299.3 574.0 L300.6 574.0 L301.7 573.3 L302.7 573.0 L303.8 573.5 L304.8 572.6 L306.0 572.6 L307.2 571.7 L308.4 571.9 L309.5 570.8 L310.7 570.6 L311.9 570.4 L313.1 570.7 L314.4 570.4 L315.6 569.7 L316.9 570.6 L318.1 569.6 L319.3 569.6 L320.6 570.1 L321.8 569.7 L323.1 569.3 L324.3 569.1 L325.6 568.7 L326.8 568.5 L328.1 568.9 L329.3 568.4 L330.6 568.6 L331.8 568.3 L332.9 568.2 L333.9 568.2 L334.9 568.8 L336.0 568.3 L337.1 570.0 L338.2 571.8 L338.9 570.1 L339.5 568.3 L340.7 568.7 L341.8 567.9 L343.0 567.9 L344.1 568.8 L345.3 568.3 L346.6 567.3 L347.9 565.3 L349.1 563.9 L350.4 562.9 L351.5 562.1 L352.6 561.4 L353.7 559.5 L354.8 558.8 L355.8 559.3 L356.7 559.2 L357.7 558.8 L358.8 560.0 L359.9 561.0 L361.1 559.7 L362.4 558.1 L363.6 557.3 L364.8 556.3 L365.9 557.0 L367.1 555.7 L368.2 555.8 L369.4 555.1 L370.4 555.8 L371.3 557.4 L372.3 558.0 L373.1 556.0 L373.8 553.7 L374.8 553.7 L375.7 553.8 L376.7 554.4 L377.8 553.6 L378.9 551.7 L380.0 550.8 L381.1 550.0 L382.1 548.6 L383.0 547.5 L384.0 545.6 L385.1 545.4 L386.2 544.6 L387.3 545.1 L388.4 544.2 L389.1 541.6 L389.8 539.8 L390.8 538.7 L391.7 538.6 L392.7 538.4 L393.8 536.5 L394.9 534.7 L395.9 533.9 L396.8 533.8 L397.8 534.0 L398.9 532.0 L400.0 530.3 L400.8 528.2 L401.5 526.0 L402.6 524.4 L403.7 523.8 L404.7 524.4 L405.6 525.8 L406.6 526.0 L407.7 529.7 L408.8 532.5 L409.9 535.4 L411.0 529.3 L412.1 522.9 L413.2 516.5 L414.2 510.5 L415.3 505.5 L416.5 504.6 L417.8 504.4 L419.0 504.8 L420.0 508.7 L420.9 511.9 L421.9 515.0 L423.0 515.8 L424.1 514.7 L425.2 515.7 L426.3 515.7 L427.3 517.9 L428.2 520.4 L429.2 522.3 L429.9 518.8 L430.7 515.7 L431.4 516.8 L432.1 516.5 L432.9 512.3 L433.6 509.2 L434.7 503.4 L435.8 497.5 L436.9 495.6 L438.0 493.1 L439.2 489.4 L440.4 484.8 L441.6 480.2 L442.8 480.3 L444.0 480.2 L445.2 479.5 L445.9 481.9 L446.7 483.2 L447.7 481.5 L448.6 480.5 L449.6 478.8 L450.7 484.5 L451.8 489.0 L452.8 487.8 L453.7 485.5 L454.7 483.9 L455.4 486.5 L456.2 488.3 L457.2 478.6 L458.3 467.8 L459.4 466.8 L460.5 465.6 L461.3 471.5 L462.3 466.3 L463.2 460.6 L464.2 455.4 L465.3 456.3 L466.4 457.0 L467.4 457.0 L468.5 458.5 L469.6 459.8 L470.7 459.8 L471.4 454.9 L472.2 448.9 L473.3 450.0 L474.4 450.3 L475.5 448.0 L476.6 446.0 L477.3 451.8 L478.1 452.5 L478.8 452.5 L479.8 456.5 L480.7 460.2 L481.7 464.2 L482.8 461.8 L483.9 458.4 L485.0 461.0 L486.1 464.9 L486.8 461.6 L487.5 457.6 L488.5 456.2 L489.4 456.3 L490.4 455.4 L491.1 451.7 L491.9 448.1 L493.1 444.5 L494.3 442.1 L495.5 438.7 L496.2 443.4 L497.0 448.1 L498.1 450.1 L499.2 451.8 L500.3 439.3 L501.4 425.5 L502.5 435.7 L503.6 446.7 L504.3 441.2 L505.0 437.2 L506.1 431.8 L507.2 427.0 L508.3 429.1 L509.4 430.6 L510.5 430.5 L511.6 431.4 L512.6 428.9 L513.5 428.1 L514.5 425.5 L515.2 426.2 L516.0 426.3 L517.0 433.0 L517.9 440.5 L518.9 446.7 L520.0 447.9 L521.1 449.6 L522.2 450.2 L523.3 450.3 L524.0 446.2 L524.7 443.0 L525.8 441.1 L526.9 439.4 L528.0 440.4 L529.1 441.2 L530.2 441.7 L531.3 441.6 L532.4 447.4 L533.5 439.4 L534.2 432.3 L534.9 425.5 L535.9 426.9 L536.8 427.7 L537.8 429.2 L538.9 432.6 L540.0 437.2 L541.0 437.3 L541.9 438.0 L542.9 437.6 L544.1 444.0 L545.4 449.6 L546.6 455.1 L547.7 444.9 L548.8 433.2 L549.5 432.5 L550.2 432.5 L551.3 426.9 L552.4 422.3 L553.6 419.8 L554.8 417.1 L556.0 415.0 L556.8 419.6 L557.5 425.2 L558.6 425.8 L559.7 426.7 L560.5 422.9 L561.2 418.7 L562.4 420.4 L563.6 421.8 L564.8 423.8 L565.5 428.4 L566.3 431.8 L567.0 433.3 L567.7 433.2 L568.7 438.5 L569.6 443.3 L570.6 449.3 L571.7 448.2 L572.8 448.6 L573.9 445.1 L575.0 440.5 L576.1 444.9 L577.2 450.8 L578.3 459.1 L579.4 466.8 L580.1 457.4 L580.8 447.8 L581.8 444.6 L582.8 442.5 L583.8 439.1 L584.9 442.0 L586.0 446.4 L586.7 441.1 L587.4 436.9 L588.4 440.2 L589.3 443.0 L590.3 447.1 L591.2 449.7 L592.2 451.2 L593.1 443.6 L594.0 436.9 L595.2 435.8 L596.4 435.2 L597.6 435.4 L598.7 430.5 L599.8 425.2 L600.5 424.4 L601.3 423.8 L602.0 426.2 L602.7 428.1 L603.8 428.0 L604.9 427.4 L605.9 425.7 L606.8 423.8 L607.8 420.8 L608.5 424.1 L609.3 426.7 L610.3 422.1 L611.2 418.4 L612.2 414.3 L613.3 414.9 L614.4 416.5 L615.5 412.0 L616.6 409.2 L617.7 405.9 L618.8 401.9 L620.0 401.1 L621.2 401.0 L622.4 401.2 L623.6 399.9 L624.9 399.5 L626.1 398.2 L627.2 401.5 L628.3 404.8 L629.5 401.6 L630.7 398.4 L631.9 394.6 L633.1 395.9 L634.4 398.0 L635.6 399.0 L636.8 397.0 L638.0 392.9 L639.2 390.9 L640.2 395.6 L641.1 399.1 L642.1 402.6 L643.2 395.1 L644.3 388.8 L645.0 386.6 L646.0 384.6 L646.9 383.0 L647.9 380.8 L648.8 384.4 L649.6 386.4 L650.5 389.5 L651.8 384.2 L653.0 378.6 L654.1 381.4 L655.2 382.9 L656.3 387.1 L657.4 390.2 L658.4 386.4 L659.3 380.9 L660.3 376.4 L661.4 376.7 L662.5 376.4 L663.7 382.2 L664.7 374.2 L665.9 375.1 L667.1 377.5 L668.3 378.6 L669.5 382.1 L670.8 384.7 L672.0 387.3 L672.7 388.0 L673.4 388.0 L674.4 383.9 L675.4 381.5 L676.4 377.1 L677.6 378.0 L678.8 378.0 L680.0 377.1 L681.1 375.0 L682.2 372.7 L683.2 371.3 L684.1 368.5 L685.1 366.9 L685.9 369.1 L686.6 369.8 L687.6 368.8 L688.5 366.1 L689.5 364.7 L690.7 367.1 L691.9 370.9 L693.1 374.2 L694.2 378.3 L695.3 382.2 L696.4 378.7 L697.5 374.2 L698.7 372.2 L700.0 369.5 L701.2 368.4 L702.4 366.0 L703.6 361.7 L704.8 359.6 L705.8 360.9 L706.7 360.5 L707.7 361.8 L708.5 358.9 L709.2 356.7 L710.3 357.9 L711.4 358.1 L712.5 365.8 L713.6 374.9 L714.3 370.6 L715.0 367.6 L716.0 362.8 L716.9 358.3 L717.9 353.0 L719.0 353.8 L720.1 353.8 L721.2 354.4 L722.3 353.8 L723.0 349.4 L724.0 349.6 L725.0 350.7 L726.0 350.1 L727.1 345.3 L728.2 342.1 L729.2 333.5 L730.3 326.0 L731.4 322.5 L732.5 318.8 L733.6 320.9 L734.7 323.9 L735.8 324.4 L736.9 323.9 L738.0 336.6 L739.1 348.7 L739.9 344.0 L740.6 339.2 L741.3 345.3 L742.0 350.1 L743.0 353.2 L743.9 356.0 L744.8 349.0 L745.7 342.8 L746.7 337.7 L747.6 333.7 L748.6 328.2 L749.5 331.4 L750.3 333.0 L751.5 343.6 L752.4 344.9 L753.2 351.1 L754.0 358.5 L754.8 356.0 L755.6 352.1 L756.8 353.8 L758.0 353.7 L759.3 360.1 L760.4 357.7 L761.6 374.6 L762.5 421.2 L763.3 426.0 L764.1 401.9 L765.3 401.1 L766.5 386.6 L767.4 388.5 L768.4 390.5 L769.3 392.3 L770.1 395.0 L770.9 398.7 L771.7 396.4 L772.5 393.9 L773.5 400.7 L774.4 407.5 L775.5 398.4 L776.5 389.0 L777.5 387.4 L778.6 387.4 L779.7 375.4 L780.5 377.9 L781.3 378.6 L782.1 373.4 L782.9 368.2 L784.1 371.6 L785.3 375.4 L786.1 361.8 L787.3 359.9 L788.5 356.9 L789.8 356.6 L791.0 356.1 L792.1 361.0 L793.4 352.1 L794.2 351.7 L795.0 351.3 L795.8 356.1 L796.6 354.9 L797.4 352.9 L798.4 352.1 L799.4 353.0 L800.4 352.7 L801.4 352.9 L802.2 355.8 L803.0 356.9 L804.2 356.1 L805.4 353.7 L806.2 347.3 L807.4 345.7 L808.6 344.9 L809.7 347.3 L810.7 357.1 L811.6 366.4 L812.6 377.0 L813.4 374.5 L814.2 372.2 L815.5 383.4 L816.5 378.0 L817.4 371.4 L818.6 372.5 L819.9 372.2 L820.7 365.8 L821.8 364.4 L822.8 362.8 L823.9 361.8 L824.9 361.0 L825.9 361.6 L826.9 362.0 L827.9 361.0 L828.7 356.3 L829.5 352.9 L830.7 351.4 L831.9 348.9 L832.7 347.6 L833.5 348.1 L834.3 339.3 L835.4 342.4 L836.4 346.2 L837.5 350.5 L838.3 351.7 L839.1 352.1 L839.9 348.2 L840.7 344.9 L841.8 349.2 L842.8 354.2 L843.9 358.5 L845.1 349.7 L846.4 342.5 L847.6 348.5 L848.8 353.7 L850.0 348.2 L851.2 344.1 L852.0 337.7 L852.8 331.2 L853.8 322.9 L854.7 315.7 L855.7 308.4 L856.6 302.4 L857.6 310.0 L858.5 301.5 L859.5 292.9 L860.4 299.6 L861.4 291.0 L862.7 289.0 L863.9 286.9 L865.2 285.3 L866.2 285.1 L867.1 285.3 L868.0 278.7 L869.3 277.8 L869.9 284.4 L870.9 281.5 L871.8 285.9 L872.8 290.1 L873.8 296.5 L874.7 304.3 L875.6 304.3 L876.6 305.8 L877.5 306.2 L878.4 303.7 L879.4 300.6 L880.3 297.7 L881.1 299.4 L881.9 299.6 L882.8 295.5 L883.8 291.0 L884.9 296.5 L886.0 300.5 L887.0 304.4 L887.9 309.9 L888.9 313.8 L889.8 308.3 L890.8 301.5 L891.8 305.6 L892.7 308.1 L893.7 304.9 L894.6 302.4 L895.5 301.7 L896.5 302.7 L897.4 301.5 L898.4 297.1 L899.3 295.0 L900.3 290.1 L901.0 293.3 L901.6 294.8 L902.8 285.0 L904.0 276.8 L905.0 277.5 L905.9 279.8 L906.9 280.6 L908.2 276.6 L909.4 272.8 L910.7 270.2 L911.7 274.2 L912.6 276.8 L913.5 277.6 L914.5 279.4 L915.4 279.7 L916.5 274.1 L917.6 270.0 L918.7 265.9 L919.8 260.7 L920.5 259.6 L921.1 260.7 L922.0 252.4 L923.0 245.5 L924.0 246.9 L924.9 248.4 L925.9 248.4 L926.8 239.8 L927.8 241.4 L928.7 240.8 L929.7 244.2 L930.6 249.3 L931.9 240.8 L933.1 239.9 L934.4 238.9 L935.6 235.7 L936.8 231.3 L937.9 227.9 L939.1 223.7 L940.0 228.2 L941.0 234.1 L942.0 229.8 L942.9 227.5 L943.8 226.1 L944.8 226.6 L945.8 224.9 L946.7 225.5 L947.7 224.7 L948.6 207.0 L949.7 200.9 L950.7 194.7 L951.6 188.9 L952.6 181.8 L953.5 176.7 L954.5 183.2 L955.4 190.5 L956.4 198.5 L957.3 188.9 L958.3 177.7 L959.0 181.8 L959.8 183.4 L960.5 181.6 L961.1 177.7 L962.1 173.2 L963.0 169.6 L964.0 167.2 L965.0 167.4 L965.9 165.3 L966.8 169.1 L967.8 165.7 L968.7 162.5 L969.7 157.8 L970.6 151.3 L971.6 146.4 L972.5 147.3 L973.6 164.3 L974.8 181.5 L975.5 177.2 L976.3 172.9 L977.2 160.7 L978.2 149.2 L979.1 136.9 L979.9 142.3 L980.7 150.2 L982.0 135.9 L983.2 133.1 L984.4 129.3 L985.1 148.2 L985.8 165.3 L987.0 156.9 L988.1 150.0 L989.3 143.2 L990.5 135.0 L991.5 130.6 L992.4 126.0 L993.4 122.7 L994.0 120.3 L994.7 119.8 L995.8 130.3 L996.9 131.9 L997.9 132.1 L999.0 135.0 L1000.2 124.2 L1001.5 111.3 L1002.8 108.4 L1004.1 108.0 L1005.3 106.5 L1006.6 104.7 L1007.9 107.6 L1009.1 108.8 L1010.4 110.3 L1011.7 110.0 L1012.9 110.6 L1014.2 110.3 L1015.5 107.5 L1016.8 102.8 L1018.0 98.0 L1019.3 97.2 L1020.5 94.5 L1021.8 91.4 L1022.9 91.3 L1024.0 92.5 L1024.8 91.9 L1025.5 89.0 L1026.2 91.6 L1027.0 92.9 L1027.8 92.4 L1028.6 90.3 L1029.6 91.2 L1030.6 90.3 L1031.4 87.0 L1032.2 84.2 L1033.0 85.6 L1033.7 84.7 L1034.5 87.6 L1035.2 88.3 L1036.2 88.9 L1037.3 88.3 L1038.0 84.7 L1038.8 79.6 L1039.5 74.0 L1040.3 66.8 L1041.1 66.0 L1041.9 65.8 L1042.7 59.3 L1043.4 51.5 L1044.2 46.1 L1044.9 43.3 L1045.7 42.3 L1046.5 42.3 L1047.5 39.7 L1048.7 39.7 L1049.5 63.7 L1050.4 41.2 L1051.1 50.4 L1051.8 40.2 L1052.6 58.6 L1053.6 79.6 L1054.6 70.4 L1055.4 71.6 L1056.2 72.9 L1057.0 75.1 L1057.7 80.1 L1058.7 79.1 L1059.5 71.2 L1060.3 64.2 L1061.0 63.4 L1061.8 61.7 L1062.5 55.7 L1063.3 48.9 L1064.4 48.4 L1065.2 43.2 L1065.9 39.7 L1066.9 41.1 L1068.0 40.2 L1069.0 39.7 L1070.2 58.9 L1071.5 79.1 L1072.5 52.0 L1073.2 59.6 L1073.9 66.3" fill="none" stroke="#000" stroke-width="1.1" stroke-linejoin="round"/>
</g>
<rect x="1.5" y="8.5" width="1073" height="651" fill="none" stroke="#7ba56e" stroke-width="1"/>
<rect x="1.5" y="8.5" width="213" height="17" fill="url(#lg)" stroke="#85ad78" stroke-width="1"/>
<text x="6" y="21" font-size="11" fill="#000">Weekly Seasonality Tester (5 0)</text>
<path d="M165.4 21.6 L171.3 15.8 M171.3 16 L171.3 11.3 M171.3 11.1 L173.2 11.1 M171.3 15.9 L175.9 15.9 M175.9 16.3 L175.9 14" fill="none" stroke="#000" stroke-width="3.1" stroke-linecap="round" stroke-linejoin="round"/>
<path d="M165.4 21.6 L171.3 15.8 M171.3 16 L171.3 11.6 M171.3 15.9 L175.9 15.9" fill="none" stroke="#fff" stroke-width="1.7" stroke-linecap="round" stroke-linejoin="round"/>
<rect x="184.3" y="10.2" width="8.5" height="8.3" rx="1.3" fill="#000"/><rect x="185.2" y="13" width="6.8" height="4.9" fill="#fff"/>
<rect x="181.2" y="14.3" width="8.6" height="8.3" rx="1.3" fill="#000"/><rect x="182" y="16.9" width="7" height="5" fill="#fff"/>
<defs><linearGradient id="cg" x1="0" y1="0" x2="0" y2="1"><stop offset="0" stop-color="#6e6e6e"/><stop offset="1" stop-color="#050505"/></linearGradient></defs>
<circle cx="204.45" cy="16.4" r="6.35" fill="url(#cg)"/><path d="M202 14 L207 19 M207 14 L202 19" stroke="#fff" stroke-width="1.9" stroke-linecap="square"/>
<path d="M1075 573.5H1077M1075 551.5H1079M1075 529.5H1077M1075 507.5H1079M1075 484.5H1077M1075 462.5H1079M1075 439.5H1077M1075 417.5H1079M1075 394.5H1077M1075 372.5H1079M1075 349.5H1077M1075 327.5H1079M1075 304.5H1077M1075 282.5H1079M1075 260.5H1077M1075 237.5H1079M1075 215.5H1077M1075 192.5H1079M1075 170.5H1077M1075 148.5H1079M1075 125.5H1077M1075 103.5H1079M1075 80.5H1077M1075 58.5H1079M1075 35.5H1077M1075 13.5H1079" stroke="#7ba56e" stroke-width="1"/>
<g font-size="11" fill="#000"><text x="1081" y="555">2,000</text><text x="1081" y="511">4,000</text><text x="1081" y="466">6,000</text><text x="1081" y="421">8,000</text><text x="1081" y="376" font-weight="bold" font-size="12" letter-spacing="0.2">10,000</text><text x="1081" y="331">12,000</text><text x="1081" y="286">14,000</text><text x="1081" y="241">16,000</text><text x="1081" y="196">18,000</text><text x="1081" y="152" font-weight="bold" font-size="12" letter-spacing="0.2">20,000</text><text x="1081" y="107">22,000</text><text x="1081" y="62">24,000</text><text x="1081" y="18.5">26,000</text></g>
<rect x="1075" y="66.5" width="5" height="1.2" fill="#000"/>
<rect x="1079.5" y="59.5" width="36" height="15" fill="url(#bx)" stroke="#86b078" stroke-width="1"/>
<text x="1081" y="71" font-size="11" fill="#000">23,608</text>
<rect x="1075" y="595" width="5" height="2" fill="#000"/>
<rect x="1075" y="621" width="5" height="1" fill="#800000"/>
<rect x="1079.5" y="579.5" width="21" height="15" fill="url(#bx)" stroke="#86b078" stroke-width="1"/>
<text x="1081" y="591" font-size="11" fill="#000">112</text>
<rect x="1079.5" y="588.5" width="15" height="14" fill="url(#bx)" stroke="#86b078" stroke-width="1"/>
<text x="1081" y="599.5" font-size="11" fill="#000">45</text>
<rect x="1079.5" y="595.5" width="9" height="15" fill="url(#bx)" stroke="#86b078" stroke-width="1"/>
<text x="1081" y="607" font-size="11" fill="#000">0</text>
<rect x="1079.5" y="613.5" width="34" height="15" fill="url(#bx)" stroke="#86b078" stroke-width="1"/>
<text x="1081" y="625" font-size="11" fill="#800000">-1,111</text>
<path d="M63.5 660V664M125.5 660V664M186.5 660V664M248.5 660V664M310.5 660V664M371.5 660V664M433.5 660V664M494.5 660V664M556.5 660V664M618.5 660V664M679.5 660V664M739.5 660V664M800.5 660V664M862.5 660V664M923.5 660V664M985.5 660V664M1046.5 660V664" stroke="#7ba56e" stroke-width="1"/>
<g font-size="11" fill="#000" text-anchor="middle"><text x="63.5" y="676">1986</text><text x="125.5" y="676">1988</text><text x="186.5" y="676">1990</text><text x="248.5" y="676">1992</text><text x="310.5" y="676">1994</text><text x="371.5" y="676">1996</text><text x="433.5" y="676">1998</text><text x="494.5" y="676">2000</text><text x="556.5" y="676">2002</text><text x="618.5" y="676">2004</text><text x="679.5" y="676">2006</text><text x="739.5" y="676">2008</text><text x="800.5" y="676">2010</text><text x="862.5" y="676">2012</text><text x="923.5" y="676">2014</text><text x="985.5" y="676">2016</text><text x="1046.5" y="676">2018</text></g>
<text x="3.5" y="657" font-size="11" fill="#000">© IT-Finance.com <tspan font-style="italic" letter-spacing="0.08">Data is indicative</tspan></text>
<rect x="1" y="679" width="1124" height="1" fill="#7ba56e"/>
<rect x="1" y="680" width="1124" height="1" fill="#d8f8cc"/>
<rect x="1" y="681" width="1124" height="4" fill="#b3ea9e"/>
<rect x="0" y="0" width="1" height="685" fill="#17c81e"/>
<rect x="1125" y="0" width="1" height="685" fill="#1ccc1c"/>
<rect x="1126" y="0" width="2" height="685" fill="#29d029"/>
</svg></body></html>
